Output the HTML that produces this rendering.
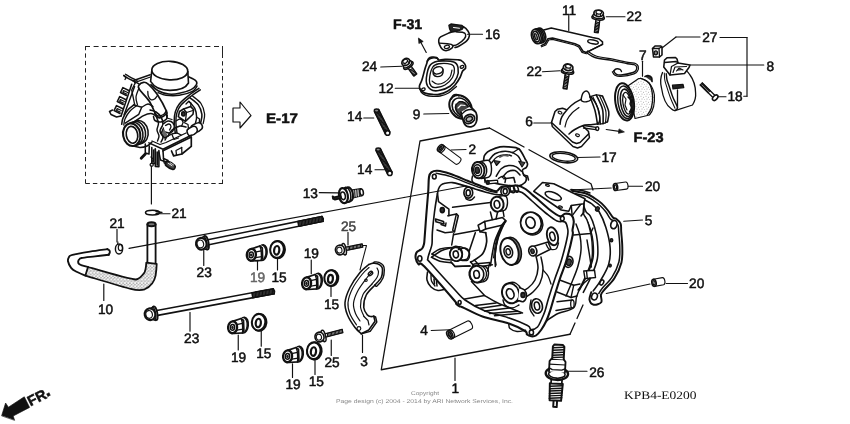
<!DOCTYPE html>
<html><head><meta charset="utf-8"><title>Cylinder head</title>
<style>
html,body{margin:0;padding:0;background:#fff;}
svg{display:block;filter:grayscale(1);}
text{text-rendering:geometricPrecision;}
</style></head><body>
<svg width="850" height="424" viewBox="0 0 850 424" stroke-linecap="round" stroke-linejoin="round">
<rect x="0" y="0" width="850" height="424" fill="#fff"/>
<g id="labels" opacity="0.999">
<text x="393" y="29" font-family='"Liberation Sans", sans-serif' font-size="14" font-weight="bold" fill="#111" textLength="29.2" lengthAdjust="spacingAndGlyphs" stroke="#111" stroke-width="0.5">F-31</text>
<text x="633.5" y="142" font-family='"Liberation Sans", sans-serif' font-size="14" font-weight="bold" fill="#111" textLength="30" lengthAdjust="spacingAndGlyphs" stroke="#111" stroke-width="0.5">F-23</text>
<text x="266" y="123.2" font-family='"Liberation Sans", sans-serif' font-size="14" font-weight="bold" fill="#111" textLength="32" lengthAdjust="spacingAndGlyphs" stroke="#111" stroke-width="0.5">E-17</text>
<text x="485" y="38.75" font-family='"Liberation Sans", sans-serif' font-size="13.7" fill="#111" stroke="#111" stroke-width="0.5">16</text>
<text x="562" y="14.5" font-family='"Liberation Sans", sans-serif' font-size="13.7" fill="#111" stroke="#111" stroke-width="0.5">11</text>
<text x="626.62" y="20.5" font-family='"Liberation Sans", sans-serif' font-size="13.7" fill="#111" stroke="#111" stroke-width="0.5">22</text>
<text x="702.25" y="42" font-family='"Liberation Sans", sans-serif' font-size="13.7" fill="#111" stroke="#111" stroke-width="0.5">27</text>
<text x="639" y="60" font-family='"Liberation Sans", sans-serif' font-size="13.7" fill="#111" stroke="#111" stroke-width="0.5">7</text>
<text x="766.5" y="71" font-family='"Liberation Sans", sans-serif' font-size="13.7" fill="#111" stroke="#111" stroke-width="0.5">8</text>
<text x="362" y="71.25" font-family='"Liberation Sans", sans-serif' font-size="13.7" fill="#111" stroke="#111" stroke-width="0.5">24</text>
<text x="378.5" y="93.25" font-family='"Liberation Sans", sans-serif' font-size="13.7" fill="#111" stroke="#111" stroke-width="0.5">12</text>
<text x="526.62" y="76.25" font-family='"Liberation Sans", sans-serif' font-size="13.7" fill="#111" stroke="#111" stroke-width="0.5">22</text>
<text x="727.5" y="100.5" font-family='"Liberation Sans", sans-serif' font-size="13.7" fill="#111" stroke="#111" stroke-width="0.5">18</text>
<text x="347.12" y="120.5" font-family='"Liberation Sans", sans-serif' font-size="13.7" fill="#111" stroke="#111" stroke-width="0.5">14</text>
<text x="412.75" y="119" font-family='"Liberation Sans", sans-serif' font-size="13.7" fill="#111" stroke="#111" stroke-width="0.5">9</text>
<text x="525.25" y="126" font-family='"Liberation Sans", sans-serif' font-size="13.7" fill="#111" stroke="#111" stroke-width="0.5">6</text>
<text x="357.12" y="174" font-family='"Liberation Sans", sans-serif' font-size="13.7" fill="#111" stroke="#111" stroke-width="0.5">14</text>
<text x="468.5" y="154" font-family='"Liberation Sans", sans-serif' font-size="13.7" fill="#111" stroke="#111" stroke-width="0.5">2</text>
<text x="601.5" y="161.5" font-family='"Liberation Sans", sans-serif' font-size="13.7" fill="#111" stroke="#111" stroke-width="0.5">17</text>
<text x="302.65" y="198.1" font-family='"Liberation Sans", sans-serif' font-size="13.7" fill="#111" stroke="#111" stroke-width="0.5">13</text>
<text x="645" y="191.25" font-family='"Liberation Sans", sans-serif' font-size="13.7" fill="#111" stroke="#111" stroke-width="0.5">20</text>
<text x="644.75" y="224.5" font-family='"Liberation Sans", sans-serif' font-size="13.7" fill="#111" stroke="#111" stroke-width="0.5">5</text>
<text x="171.5" y="218" font-family='"Liberation Sans", sans-serif' font-size="13.7" fill="#111" stroke="#111" stroke-width="0.5">21</text>
<text x="109.5" y="228.4" font-family='"Liberation Sans", sans-serif' font-size="13.7" fill="#111" stroke="#111" stroke-width="0.5">21</text>
<text x="340.88" y="231.25" font-family='"Liberation Sans", sans-serif' font-size="13.7" fill="#444" stroke="#444" stroke-width="0.5">25</text>
<text x="196.62" y="277" font-family='"Liberation Sans", sans-serif' font-size="13.7" fill="#111" stroke="#111" stroke-width="0.5">23</text>
<text x="250" y="282" font-family='"Liberation Sans", sans-serif' font-size="13.7" fill="#666" stroke="#666" stroke-width="0.5">19</text>
<text x="271.5" y="281.6" font-family='"Liberation Sans", sans-serif' font-size="13.7" fill="#111" stroke="#111" stroke-width="0.5">15</text>
<text x="303.75" y="258" font-family='"Liberation Sans", sans-serif' font-size="13.7" fill="#111" stroke="#111" stroke-width="0.5">19</text>
<text x="324" y="308.75" font-family='"Liberation Sans", sans-serif' font-size="13.7" fill="#111" stroke="#111" stroke-width="0.5">15</text>
<text x="689.12" y="288" font-family='"Liberation Sans", sans-serif' font-size="13.7" fill="#111" stroke="#111" stroke-width="0.5">20</text>
<text x="98" y="314" font-family='"Liberation Sans", sans-serif' font-size="13.7" fill="#111" stroke="#111" stroke-width="0.5">10</text>
<text x="184.12" y="343" font-family='"Liberation Sans", sans-serif' font-size="13.7" fill="#111" stroke="#111" stroke-width="0.5">23</text>
<text x="420.25" y="334.75" font-family='"Liberation Sans", sans-serif' font-size="13.7" fill="#111" stroke="#111" stroke-width="0.5">4</text>
<text x="231" y="362" font-family='"Liberation Sans", sans-serif' font-size="13.7" fill="#111" stroke="#111" stroke-width="0.5">19</text>
<text x="256.25" y="358" font-family='"Liberation Sans", sans-serif' font-size="13.7" fill="#111" stroke="#111" stroke-width="0.5">15</text>
<text x="324.38" y="367" font-family='"Liberation Sans", sans-serif' font-size="13.7" fill="#111" stroke="#111" stroke-width="0.5">25</text>
<text x="360.25" y="366" font-family='"Liberation Sans", sans-serif' font-size="13.7" fill="#111" stroke="#111" stroke-width="0.5">3</text>
<text x="285.38" y="389.25" font-family='"Liberation Sans", sans-serif' font-size="13.7" fill="#111" stroke="#111" stroke-width="0.5">19</text>
<text x="308.75" y="386.25" font-family='"Liberation Sans", sans-serif' font-size="13.7" fill="#111" stroke="#111" stroke-width="0.5">15</text>
<text x="451.5" y="393" font-family='"Liberation Sans", sans-serif' font-size="13.7" fill="#111" stroke="#111" stroke-width="0.5">1</text>
<text x="589.15" y="377" font-family='"Liberation Sans", sans-serif' font-size="13.7" fill="#111" stroke="#111" stroke-width="0.5">26</text>
<text x="624" y="398.7" font-family='"Liberation Serif", serif' font-size="11.5" fill="#111" textLength="72.5" lengthAdjust="spacingAndGlyphs" >KPB4-E0200</text>
<text x="411" y="394.7" font-family='"Liberation Sans", sans-serif' font-size="5.5" fill="#888" textLength="28" lengthAdjust="spacingAndGlyphs" >Copyright</text>
<text x="336" y="402.8" font-family='"Liberation Sans", sans-serif' font-size="5.5" fill="#888" textLength="177" lengthAdjust="spacingAndGlyphs" >Page design (c) 2004 - 2014 by ARI Network Services, Inc.</text>
</g>
<g id="leaders">
<line x1="467.5" y1="34.25" x2="482.5" y2="34.25" stroke="#111" stroke-width="1.17" />
<line x1="568.75" y1="15.5" x2="568.75" y2="30.5" stroke="#111" stroke-width="1.17" />
<line x1="606.25" y1="16.75" x2="625" y2="16.75" stroke="#111" stroke-width="1.17" />
<line x1="700" y1="37" x2="676" y2="37" stroke="#111" stroke-width="1.17" />
<line x1="676" y1="37" x2="661" y2="48.75" stroke="#111" stroke-width="1.17" />
<line x1="720" y1="37.5" x2="747" y2="37.5" stroke="#111" stroke-width="1.17" />
<line x1="747" y1="37.5" x2="747" y2="96.25" stroke="#111" stroke-width="1.17" />
<line x1="747" y1="96.25" x2="743.75" y2="96.25" stroke="#111" stroke-width="1.17" />
<line x1="690.5" y1="65" x2="763.75" y2="65" stroke="#111" stroke-width="1.17" />
<line x1="717.5" y1="96.75" x2="726" y2="96.75" stroke="#111" stroke-width="1.17" />
<line x1="642.5" y1="61.25" x2="642.5" y2="76.25" stroke="#111" stroke-width="1.17" />
<line x1="380.75" y1="67" x2="402" y2="66.25" stroke="#111" stroke-width="1.17" />
<line x1="395.25" y1="88.25" x2="420.75" y2="88.25" stroke="#111" stroke-width="1.17" />
<line x1="542.5" y1="71.75" x2="560" y2="70.75" stroke="#111" stroke-width="1.17" />
<line x1="363.75" y1="118" x2="373.75" y2="118" stroke="#111" stroke-width="1.17" />
<line x1="423.75" y1="114" x2="448.75" y2="113.5" stroke="#111" stroke-width="1.17" />
<line x1="533.75" y1="123" x2="551.25" y2="123" stroke="#111" stroke-width="1.17" />
<line x1="375" y1="169.75" x2="385" y2="169.75" stroke="#111" stroke-width="1.17" />
<line x1="451" y1="150" x2="466" y2="149.5" stroke="#111" stroke-width="1.17" />
<line x1="577.5" y1="157.5" x2="600" y2="157" stroke="#111" stroke-width="1.17" />
<line x1="319.3" y1="192.7" x2="337.7" y2="192.9" stroke="#111" stroke-width="1.17" />
<line x1="627.5" y1="186.25" x2="642.5" y2="186.25" stroke="#111" stroke-width="1.17" />
<line x1="570" y1="190" x2="611.25" y2="188" stroke="#111" stroke-width="1.17" />
<line x1="623.75" y1="221.25" x2="642.5" y2="220" stroke="#111" stroke-width="1.17" />
<line x1="160" y1="213.75" x2="170" y2="213.75" stroke="#111" stroke-width="1.17" />
<line x1="117" y1="229.4" x2="117" y2="241.9" stroke="#111" stroke-width="1.17" />
<line x1="348" y1="232.5" x2="348" y2="245" stroke="#111" stroke-width="1.17" />
<line x1="203.75" y1="250" x2="203.75" y2="265.5" stroke="#111" stroke-width="1.17" />
<line x1="257.5" y1="261.25" x2="257.5" y2="270" stroke="#111" stroke-width="1.17" />
<line x1="277.5" y1="258.75" x2="277.5" y2="270" stroke="#111" stroke-width="1.17" />
<line x1="311.25" y1="260" x2="311.25" y2="273.75" stroke="#111" stroke-width="1.17" />
<line x1="331" y1="286" x2="331" y2="296.5" stroke="#111" stroke-width="1.17" />
<line x1="666.25" y1="283.5" x2="687.5" y2="283.5" stroke="#111" stroke-width="1.17" />
<line x1="606.25" y1="293.5" x2="650" y2="284" stroke="#111" stroke-width="1.17" />
<line x1="103.8" y1="284" x2="103.8" y2="300.5" stroke="#111" stroke-width="1.17" />
<line x1="190" y1="312.5" x2="190" y2="331.25" stroke="#111" stroke-width="1.17" />
<line x1="431.25" y1="330.5" x2="450" y2="329.75" stroke="#111" stroke-width="1.17" />
<line x1="238.25" y1="335" x2="238.25" y2="350" stroke="#111" stroke-width="1.17" />
<line x1="261.25" y1="331.25" x2="261.25" y2="346.25" stroke="#111" stroke-width="1.17" />
<line x1="331.25" y1="340" x2="331.25" y2="355.5" stroke="#111" stroke-width="1.17" />
<line x1="362.5" y1="335" x2="362.5" y2="352.5" stroke="#111" stroke-width="1.17" />
<line x1="292.5" y1="363.75" x2="292.5" y2="377.5" stroke="#111" stroke-width="1.17" />
<line x1="315" y1="360" x2="315" y2="374.5" stroke="#111" stroke-width="1.17" />
<line x1="455" y1="358" x2="455" y2="380.5" stroke="#111" stroke-width="1.17" />
<line x1="567.5" y1="371.25" x2="587" y2="371.25" stroke="#111" stroke-width="1.17" />
<line x1="151.4" y1="166" x2="151.4" y2="204" stroke="#111" stroke-width="1.17" />
<path d="M362.5 245.5 L366.5 245.5 L360 270" fill="none" stroke="#111" stroke-width="1.04" />
<path d="M489.5 128 L420 141 L381.25 369.75 L570 334.25" fill="none" stroke="#111" stroke-width="1.3" />
<path d="M489.5 128 L524 147" fill="none" stroke="#111" stroke-width="1.3" />
<path d="M529 149.7 L591 183.75 L593 190" fill="none" stroke="#111" stroke-width="1.3" />
<path d="M570 334.25 L575 323" fill="none" stroke="#111" stroke-width="1.3" />
<path d="M577 318.5 L583 305" fill="none" stroke="#111" stroke-width="1.3" />
</g>
<g stroke="#222" stroke-width="1" stroke-linecap="butt" fill="none"><path d="M85 46.5 H223" stroke-dasharray="5 3.6"/><path d="M85.5 183.5 H223" stroke-dasharray="4.4 3"/><path d="M85.5 46 V184" stroke-dasharray="4.3 3.1"/><path d="M222.5 46 V58"/><path d="M222.5 61.2 V184" stroke-dasharray="4.3 3.1"/></g>
<path d="M233 108 L240 108 L240 102 L251 115.5 L240 128 L240 122 L233 122Z" fill="none" stroke="#111" stroke-width="1.17" />
<line x1="426.25" y1="52.5" x2="419.3" y2="39.5" stroke="#111" stroke-width="1.17" />
<path d="M418.75 38.25 L423.2 41.5 L419.2 43.3Z" fill="#111" stroke="#111" stroke-width="0.78" />
<line x1="606.25" y1="129.5" x2="621" y2="131.7" stroke="#111" stroke-width="1.17" />
<path d="M624 132 L618.5 133.3 L619 129.3Z" fill="#111" stroke="#111" stroke-width="0.78" />
<path d="M1.7 415.5 L5.6 403 L8.4 407.2 L24.3 396.8 L29.6 407.4 L13.2 416 L14.5 420Z" fill="#111" stroke="#111" stroke-width="0.65" />
<text transform="translate(30.5 406.5) rotate(-27)" font-family='"Liberation Sans", sans-serif' font-weight="bold" font-size="14.5" fill="#111" stroke="#111" stroke-width="0.5">FR<tspan dx="-0.5" dy="-1" font-size="19">.</tspan></text>
<line x1="129" y1="248.3" x2="404" y2="197.46" stroke="#111" stroke-width="1.17" />
<g id="hose">
<defs><pattern id="stip" width="3.4" height="3.4" patternUnits="userSpaceOnUse"><rect width="3.4" height="3.4" fill="#f4f4f4"/><circle cx="0.8" cy="0.9" r="0.5" fill="#222"/><circle cx="2.5" cy="2.4" r="0.5" fill="#222"/><circle cx="1" cy="2.9" r="0.35" fill="#444"/></pattern></defs>
<path d="M147.4 262.6 L147.4 224.5" fill="none" stroke="#111" stroke-width="1.82" />
<path d="M155.6 263.9 L155.6 224.5" fill="none" stroke="#111" stroke-width="1.82" />
<ellipse cx="151.5" cy="224.3" rx="4.1" ry="2" fill="#777" stroke="#111" stroke-width="1.95" />
<path d="M146.3 262.6 C146 268 145.5 272 143.7 273.5 C141.5 276.5 138.5 279 136 279.5 C131 279.8 100 270.5 88 267 L85.4 275.6 C100 280 124 287.5 130.8 288.8 C137 290.5 141 290.5 144.7 289.3 C151 286.5 154.5 281 155.6 275.6 C156.3 271 156.6 267 156.7 263.9 Z" fill="url(#stip)" stroke="#111" stroke-width="1.8"/>
<path d="M85.4 275.6 C83.83 274.92 78.38 272.8 76 271.5 C73.62 270.2 72.43 269.5 71.1 267.8 C69.77 266.1 68.35 263.1 68 261.3 C67.65 259.5 68.27 258.08 69 257 C69.73 255.92 68.9 255.7 72.4 254.8 C75.9 253.9 84.17 252.55 90 251.6 C95.83 250.65 104.5 249.52 107.4 249.1" fill="none" stroke="#111" stroke-width="1.89" />
<path d="M88 267 C87 266.73 83.52 265.92 82 265.4 C80.48 264.88 79.53 264.58 78.9 263.9 C78.27 263.22 78.1 262.08 78.2 261.3 C78.3 260.52 78.95 259.75 79.5 259.2 C80.05 258.65 78.92 258.47 81.5 258 C84.08 257.53 90.47 256.93 95 256.4 C99.53 255.87 106.42 255.07 108.7 254.8" fill="none" stroke="#111" stroke-width="1.89" />
<path d="M107.4 249.1 C107.72 249.3 108.9 249.77 109.3 250.3 C109.7 250.83 109.9 251.55 109.8 252.3 C109.7 253.05 108.88 254.38 108.7 254.8" fill="none" stroke="#111" stroke-width="1.89" />
</g>
<ellipse cx="152.5" cy="212.6" rx="7" ry="2.4" fill="none" stroke="#111" stroke-width="1.56" />
<path d="M156 211.5 L162 212.4 L156 213.6" fill="none" stroke="#111" stroke-width="1.3" />
<ellipse cx="119" cy="249" rx="3.6" ry="5" fill="none" stroke="#111" stroke-width="1.43" />
<ellipse cx="120.5" cy="247.5" rx="2.2" ry="3.2" fill="none" stroke="#111" stroke-width="1.17" />
<line x1="117.5" y1="244.5" x2="118" y2="241.9" stroke="#111" stroke-width="1.04" />
<path d="M207.63 244.99 L323 221.35" fill="none" stroke="#111" stroke-width="1.56" />
<path d="M206.63 240.1 L322 216.45" fill="none" stroke="#111" stroke-width="1.56" />
<path d="M323 221.35 L323.28 218.74 L322 216.45" fill="none" stroke="#111" stroke-width="1.56" />
<path d="M298.74 226.32 L323 221.35 L322 216.45 L297.73 221.42Z" fill="#555" stroke="#111" stroke-width="1.3" />
<line x1="298.74" y1="226.32" x2="298.32" y2="221.3" stroke="#111" stroke-width="1.04" />
<line x1="300.16" y1="226.03" x2="299.74" y2="221.01" stroke="#111" stroke-width="1.04" />
<line x1="301.58" y1="225.74" x2="301.16" y2="220.72" stroke="#111" stroke-width="1.04" />
<line x1="303" y1="225.45" x2="302.58" y2="220.43" stroke="#111" stroke-width="1.04" />
<line x1="304.42" y1="225.16" x2="304" y2="220.14" stroke="#111" stroke-width="1.04" />
<line x1="305.84" y1="224.87" x2="305.42" y2="219.85" stroke="#111" stroke-width="1.04" />
<line x1="307.26" y1="224.58" x2="306.84" y2="219.56" stroke="#111" stroke-width="1.04" />
<line x1="308.68" y1="224.28" x2="308.26" y2="219.27" stroke="#111" stroke-width="1.04" />
<line x1="310.1" y1="223.99" x2="309.68" y2="218.97" stroke="#111" stroke-width="1.04" />
<line x1="311.52" y1="223.7" x2="311.1" y2="218.68" stroke="#111" stroke-width="1.04" />
<line x1="312.94" y1="223.41" x2="312.52" y2="218.39" stroke="#111" stroke-width="1.04" />
<line x1="314.36" y1="223.12" x2="313.95" y2="218.1" stroke="#111" stroke-width="1.04" />
<line x1="315.78" y1="222.83" x2="315.37" y2="217.81" stroke="#111" stroke-width="1.04" />
<line x1="317.2" y1="222.54" x2="316.79" y2="217.52" stroke="#111" stroke-width="1.04" />
<line x1="318.62" y1="222.25" x2="318.21" y2="217.23" stroke="#111" stroke-width="1.04" />
<line x1="320.04" y1="221.96" x2="319.63" y2="216.94" stroke="#111" stroke-width="1.04" />
<line x1="321.46" y1="221.66" x2="321.05" y2="216.65" stroke="#111" stroke-width="1.04" />
<ellipse cx="206.15" cy="242.75" rx="2.4" ry="7" fill="#fff" stroke="#111" stroke-width="1.82" transform="rotate(-11.58 206.15 242.75)" />
<ellipse cx="204.58" cy="243.07" rx="2.2" ry="6.4" fill="#fff" stroke="#111" stroke-width="1.43" transform="rotate(-11.58 204.58 243.07)" />
<ellipse cx="201.25" cy="243.75" rx="5.3" ry="5.9" fill="#fff" stroke="#111" stroke-width="2.08" transform="rotate(-11.58 201.25 243.75)" />
<ellipse cx="200.37" cy="243.93" rx="3.3" ry="3.9" fill="none" stroke="#111" stroke-width="1.17" transform="rotate(-11.58 200.37 243.93)" />
<path d="M156.36 315.61 L274.21 293.76" fill="none" stroke="#111" stroke-width="1.56" />
<path d="M155.44 310.7 L273.29 288.84" fill="none" stroke="#111" stroke-width="1.56" />
<path d="M274.21 293.76 L274.54 291.15 L273.29 288.84" fill="none" stroke="#111" stroke-width="1.56" />
<path d="M252.71 297.74 L274.21 293.76 L273.29 288.84 L251.8 292.83Z" fill="#555" stroke="#111" stroke-width="1.3" />
<line x1="252.71" y1="297.74" x2="252.39" y2="292.72" stroke="#111" stroke-width="1.04" />
<line x1="254.14" y1="297.48" x2="253.82" y2="292.45" stroke="#111" stroke-width="1.04" />
<line x1="255.56" y1="297.22" x2="255.24" y2="292.19" stroke="#111" stroke-width="1.04" />
<line x1="256.99" y1="296.95" x2="256.67" y2="291.93" stroke="#111" stroke-width="1.04" />
<line x1="258.42" y1="296.69" x2="258.09" y2="291.66" stroke="#111" stroke-width="1.04" />
<line x1="259.84" y1="296.42" x2="259.52" y2="291.4" stroke="#111" stroke-width="1.04" />
<line x1="261.27" y1="296.16" x2="260.94" y2="291.13" stroke="#111" stroke-width="1.04" />
<line x1="262.69" y1="295.89" x2="262.37" y2="290.87" stroke="#111" stroke-width="1.04" />
<line x1="264.12" y1="295.63" x2="263.8" y2="290.6" stroke="#111" stroke-width="1.04" />
<line x1="265.54" y1="295.36" x2="265.22" y2="290.34" stroke="#111" stroke-width="1.04" />
<line x1="266.97" y1="295.1" x2="266.65" y2="290.07" stroke="#111" stroke-width="1.04" />
<line x1="268.39" y1="294.84" x2="268.07" y2="289.81" stroke="#111" stroke-width="1.04" />
<line x1="269.82" y1="294.57" x2="269.5" y2="289.55" stroke="#111" stroke-width="1.04" />
<line x1="271.25" y1="294.31" x2="270.92" y2="289.28" stroke="#111" stroke-width="1.04" />
<line x1="272.67" y1="294.04" x2="272.35" y2="289.02" stroke="#111" stroke-width="1.04" />
<ellipse cx="154.92" cy="313.34" rx="2.4" ry="7" fill="#fff" stroke="#111" stroke-width="1.82" transform="rotate(-10.51 154.92 313.34)" />
<ellipse cx="153.34" cy="313.63" rx="2.2" ry="6.4" fill="#fff" stroke="#111" stroke-width="1.43" transform="rotate(-10.51 153.34 313.63)" />
<ellipse cx="150" cy="314.25" rx="5.3" ry="5.9" fill="#fff" stroke="#111" stroke-width="2.08" transform="rotate(-10.51 150 314.25)" />
<ellipse cx="149.12" cy="314.41" rx="3.3" ry="3.9" fill="none" stroke="#111" stroke-width="1.17" transform="rotate(-10.51 149.12 314.41)" />
<g transform="translate(246.25 245)">
<ellipse cx="16.3" cy="7.6" rx="4.4" ry="7.9" fill="#222" stroke="#111" stroke-width="1.69" transform="rotate(6 16.3 7.6)" />
<ellipse cx="14.3" cy="7.9" rx="4.1" ry="7" fill="#fff" stroke="#fff" stroke-width="1.04" transform="rotate(6 14.3 7.9)" />
<path d="M5.1 3.9 L13.6 1 L16 3 L16.4 13 L15 15.3 L6.5 16Z" fill="#fff" stroke="#111" stroke-width="1.69" />
<line x1="9" y1="7.2" x2="15" y2="5.8" stroke="#111" stroke-width="1.3" />
<line x1="9.4" y1="12.6" x2="15.4" y2="11.6" stroke="#111" stroke-width="1.3" />
<path d="M13.6 1 C13.8 1.67 14.53 3.25 14.8 5 C15.07 6.75 15.17 9.78 15.2 11.5 C15.23 13.22 15.03 14.67 15 15.3" fill="none" stroke="#111" stroke-width="1.43" />
<ellipse cx="5.1" cy="9.8" rx="4.5" ry="6" fill="#fff" stroke="#111" stroke-width="2.34" transform="rotate(6 5.1 9.8)" />
<ellipse cx="5" cy="9.9" rx="2.1" ry="2.9" fill="#fff" stroke="#111" stroke-width="1.43" transform="rotate(6 5 9.9)" />
<ellipse cx="5" cy="9.9" rx="0.7" ry="1" fill="#333" stroke="#111" stroke-width="1.04" transform="rotate(6 5 9.9)" />
</g>
<ellipse cx="278" cy="249.7" rx="7" ry="8.6" fill="#222" stroke="#111" stroke-width="1.82" transform="rotate(6 278 249.7)" />
<ellipse cx="277" cy="249.5" rx="6.8" ry="8.4" fill="#fff" stroke="#111" stroke-width="2.08" transform="rotate(6 277 249.5)" />
<ellipse cx="276.7" cy="250.3" rx="2.59" ry="4.3" fill="#fff" stroke="#111" stroke-width="2.21" transform="rotate(6 276.7 250.3)" />
<g transform="translate(301.5 273.5)">
<ellipse cx="16.3" cy="7.6" rx="4.4" ry="7.9" fill="#222" stroke="#111" stroke-width="1.69" transform="rotate(6 16.3 7.6)" />
<ellipse cx="14.3" cy="7.9" rx="4.1" ry="7" fill="#fff" stroke="#fff" stroke-width="1.04" transform="rotate(6 14.3 7.9)" />
<path d="M5.1 3.9 L13.6 1 L16 3 L16.4 13 L15 15.3 L6.5 16Z" fill="#fff" stroke="#111" stroke-width="1.69" />
<line x1="9" y1="7.2" x2="15" y2="5.8" stroke="#111" stroke-width="1.3" />
<line x1="9.4" y1="12.6" x2="15.4" y2="11.6" stroke="#111" stroke-width="1.3" />
<path d="M13.6 1 C13.8 1.67 14.53 3.25 14.8 5 C15.07 6.75 15.17 9.78 15.2 11.5 C15.23 13.22 15.03 14.67 15 15.3" fill="none" stroke="#111" stroke-width="1.43" />
<ellipse cx="5.1" cy="9.8" rx="4.5" ry="6" fill="#fff" stroke="#111" stroke-width="2.34" transform="rotate(6 5.1 9.8)" />
<ellipse cx="5" cy="9.9" rx="2.1" ry="2.9" fill="#fff" stroke="#111" stroke-width="1.43" transform="rotate(6 5 9.9)" />
<ellipse cx="5" cy="9.9" rx="0.7" ry="1" fill="#333" stroke="#111" stroke-width="1.04" transform="rotate(6 5 9.9)" />
</g>
<ellipse cx="331.75" cy="278.2" rx="6.6" ry="8" fill="#222" stroke="#111" stroke-width="1.82" transform="rotate(6 331.75 278.2)" />
<ellipse cx="330.75" cy="278" rx="6.4" ry="7.8" fill="#fff" stroke="#111" stroke-width="2.08" transform="rotate(6 330.75 278)" />
<ellipse cx="330.45" cy="278.8" rx="2.44" ry="4" fill="#fff" stroke="#111" stroke-width="2.21" transform="rotate(6 330.45 278.8)" />
<g transform="translate(227.5 317.5)">
<ellipse cx="16.3" cy="7.6" rx="4.4" ry="7.9" fill="#222" stroke="#111" stroke-width="1.69" transform="rotate(6 16.3 7.6)" />
<ellipse cx="14.3" cy="7.9" rx="4.1" ry="7" fill="#fff" stroke="#fff" stroke-width="1.04" transform="rotate(6 14.3 7.9)" />
<path d="M5.1 3.9 L13.6 1 L16 3 L16.4 13 L15 15.3 L6.5 16Z" fill="#fff" stroke="#111" stroke-width="1.69" />
<line x1="9" y1="7.2" x2="15" y2="5.8" stroke="#111" stroke-width="1.3" />
<line x1="9.4" y1="12.6" x2="15.4" y2="11.6" stroke="#111" stroke-width="1.3" />
<path d="M13.6 1 C13.8 1.67 14.53 3.25 14.8 5 C15.07 6.75 15.17 9.78 15.2 11.5 C15.23 13.22 15.03 14.67 15 15.3" fill="none" stroke="#111" stroke-width="1.43" />
<ellipse cx="5.1" cy="9.8" rx="4.5" ry="6" fill="#fff" stroke="#111" stroke-width="2.34" transform="rotate(6 5.1 9.8)" />
<ellipse cx="5" cy="9.9" rx="2.1" ry="2.9" fill="#fff" stroke="#111" stroke-width="1.43" transform="rotate(6 5 9.9)" />
<ellipse cx="5" cy="9.9" rx="0.7" ry="1" fill="#333" stroke="#111" stroke-width="1.04" transform="rotate(6 5 9.9)" />
</g>
<ellipse cx="259.6" cy="322.4" rx="6.9" ry="8.5" fill="#222" stroke="#111" stroke-width="1.82" transform="rotate(6 259.6 322.4)" />
<ellipse cx="258.6" cy="322.2" rx="6.7" ry="8.3" fill="#fff" stroke="#111" stroke-width="2.08" transform="rotate(6 258.6 322.2)" />
<ellipse cx="258.3" cy="323" rx="2.55" ry="4.25" fill="#fff" stroke="#111" stroke-width="2.21" transform="rotate(6 258.3 323)" />
<g transform="translate(282.5 346.5)">
<ellipse cx="16.3" cy="7.6" rx="4.4" ry="7.9" fill="#222" stroke="#111" stroke-width="1.69" transform="rotate(6 16.3 7.6)" />
<ellipse cx="14.3" cy="7.9" rx="4.1" ry="7" fill="#fff" stroke="#fff" stroke-width="1.04" transform="rotate(6 14.3 7.9)" />
<path d="M5.1 3.9 L13.6 1 L16 3 L16.4 13 L15 15.3 L6.5 16Z" fill="#fff" stroke="#111" stroke-width="1.69" />
<line x1="9" y1="7.2" x2="15" y2="5.8" stroke="#111" stroke-width="1.3" />
<line x1="9.4" y1="12.6" x2="15.4" y2="11.6" stroke="#111" stroke-width="1.3" />
<path d="M13.6 1 C13.8 1.67 14.53 3.25 14.8 5 C15.07 6.75 15.17 9.78 15.2 11.5 C15.23 13.22 15.03 14.67 15 15.3" fill="none" stroke="#111" stroke-width="1.43" />
<ellipse cx="5.1" cy="9.8" rx="4.5" ry="6" fill="#fff" stroke="#111" stroke-width="2.34" transform="rotate(6 5.1 9.8)" />
<ellipse cx="5" cy="9.9" rx="2.1" ry="2.9" fill="#fff" stroke="#111" stroke-width="1.43" transform="rotate(6 5 9.9)" />
<ellipse cx="5" cy="9.9" rx="0.7" ry="1" fill="#333" stroke="#111" stroke-width="1.04" transform="rotate(6 5 9.9)" />
</g>
<ellipse cx="314.75" cy="350.95" rx="7" ry="8.6" fill="#222" stroke="#111" stroke-width="1.82" transform="rotate(6 314.75 350.95)" />
<ellipse cx="313.75" cy="350.75" rx="6.8" ry="8.4" fill="#fff" stroke="#111" stroke-width="2.08" transform="rotate(6 313.75 350.75)" />
<ellipse cx="313.45" cy="351.55" rx="2.59" ry="4.3" fill="#fff" stroke="#111" stroke-width="2.21" transform="rotate(6 313.45 351.55)" />
<path d="M345.22 250.59 L362.81 247.07 L362.19 243.93 L344.59 247.45" fill="none" stroke="#111" stroke-width="1.3" />
<line x1="348.16" y1="250" x2="348.12" y2="246.74" stroke="#111" stroke-width="1.04" />
<line x1="349.53" y1="249.73" x2="349.49" y2="246.47" stroke="#111" stroke-width="1.04" />
<line x1="350.9" y1="249.45" x2="350.86" y2="246.2" stroke="#111" stroke-width="1.04" />
<line x1="352.28" y1="249.18" x2="352.24" y2="245.92" stroke="#111" stroke-width="1.04" />
<line x1="353.65" y1="248.9" x2="353.61" y2="245.65" stroke="#111" stroke-width="1.04" />
<line x1="355.02" y1="248.63" x2="354.98" y2="245.37" stroke="#111" stroke-width="1.04" />
<line x1="356.4" y1="248.35" x2="356.36" y2="245.1" stroke="#111" stroke-width="1.04" />
<line x1="357.77" y1="248.08" x2="357.73" y2="244.82" stroke="#111" stroke-width="1.04" />
<line x1="359.14" y1="247.8" x2="359.1" y2="244.55" stroke="#111" stroke-width="1.04" />
<line x1="360.51" y1="247.53" x2="360.47" y2="244.27" stroke="#111" stroke-width="1.04" />
<line x1="361.89" y1="247.25" x2="361.85" y2="244" stroke="#111" stroke-width="1.04" />
<ellipse cx="344.12" cy="249.18" rx="2" ry="5.8" fill="#fff" stroke="#111" stroke-width="1.56" transform="rotate(-11.31 344.12 249.18)" />
<ellipse cx="340" cy="250" rx="4.5" ry="4.8" fill="#fff" stroke="#111" stroke-width="1.69" transform="rotate(-11.31 340 250)" />
<ellipse cx="339.41" cy="250.12" rx="2.6" ry="3" fill="none" stroke="#111" stroke-width="1.04" transform="rotate(-11.31 339.41 250.12)" />
<path d="M324.74 337.29 L342.9 332.55 L342.1 329.45 L323.93 334.19" fill="none" stroke="#111" stroke-width="1.3" />
<line x1="327.64" y1="336.53" x2="327.42" y2="333.28" stroke="#111" stroke-width="1.04" />
<line x1="329" y1="336.18" x2="328.77" y2="332.93" stroke="#111" stroke-width="1.04" />
<line x1="330.35" y1="335.82" x2="330.13" y2="332.57" stroke="#111" stroke-width="1.04" />
<line x1="331.71" y1="335.47" x2="331.48" y2="332.22" stroke="#111" stroke-width="1.04" />
<line x1="333.06" y1="335.12" x2="332.84" y2="331.87" stroke="#111" stroke-width="1.04" />
<line x1="334.42" y1="334.76" x2="334.19" y2="331.51" stroke="#111" stroke-width="1.04" />
<line x1="335.77" y1="334.41" x2="335.55" y2="331.16" stroke="#111" stroke-width="1.04" />
<line x1="337.13" y1="334.06" x2="336.9" y2="330.81" stroke="#111" stroke-width="1.04" />
<line x1="338.48" y1="333.7" x2="338.25" y2="330.45" stroke="#111" stroke-width="1.04" />
<line x1="339.84" y1="333.35" x2="339.61" y2="330.1" stroke="#111" stroke-width="1.04" />
<line x1="341.19" y1="332.99" x2="340.96" y2="329.75" stroke="#111" stroke-width="1.04" />
<line x1="342.55" y1="332.64" x2="342.32" y2="329.39" stroke="#111" stroke-width="1.04" />
<ellipse cx="323.56" cy="335.94" rx="2" ry="5.8" fill="#fff" stroke="#111" stroke-width="1.56" transform="rotate(-14.62 323.56 335.94)" />
<ellipse cx="319.5" cy="337" rx="4.5" ry="4.8" fill="#fff" stroke="#111" stroke-width="1.69" transform="rotate(-14.62 319.5 337)" />
<ellipse cx="318.92" cy="337.15" rx="2.6" ry="3" fill="none" stroke="#111" stroke-width="1.04" transform="rotate(-14.62 318.92 337.15)" />
<g id="plate3">
<path d="M368.75 264.5 C367.29 265.83 363.12 268.67 360 272.5 C356.88 276.33 352.5 282.5 350 287.5 C347.5 292.5 345.42 297.92 345 302.5 C344.58 307.08 345.83 310.83 347.5 315 C349.17 319.17 352.71 324.38 355 327.5 C357.29 330.62 360.21 332.71 361.25 333.75" fill="none" stroke="#111" stroke-width="1.56" />
<path d="M368.75 264.5 C369.46 264.3 371.54 263.43 373 263.3 C374.46 263.18 376.08 263.22 377.5 263.75 C378.92 264.28 380.67 265.46 381.5 266.5 C382.33 267.54 382.54 268.17 382.5 270 C382.46 271.83 382.5 275 381.25 277.5 C380 280 376.04 283.75 375 285" fill="none" stroke="#111" stroke-width="1.56" />
<path d="M375 285 C373.54 286.67 368.12 291.25 366.25 295 C364.38 298.75 363.54 304.17 363.75 307.5 C363.96 310.83 366.29 313.48 367.5 315 C368.71 316.52 369.96 316.39 371 316.6 C372.04 316.81 373.29 316.31 373.75 316.25" fill="none" stroke="#111" stroke-width="1.56" />
<path d="M373.75 316.25 L375 321.25 L368.75 330 L361.25 333.75" fill="none" stroke="#111" stroke-width="1.56" />
<path d="M369 267.5 C367.83 268.67 364.75 271 362 274.5 C359.25 278 354.83 283.83 352.5 288.5 C350.17 293.17 348.42 298.25 348 302.5 C347.58 306.75 348.58 310.25 350 314 C351.42 317.75 355.42 323.17 356.5 325" fill="none" stroke="#111" stroke-width="1.17" />
<path d="M372 272 C371 273.17 368.42 275.75 366 279 C363.58 282.25 359.58 287.42 357.5 291.5 C355.42 295.58 353.83 299.83 353.5 303.5 C353.17 307.17 354.42 310.58 355.5 313.5 C356.58 316.42 359.25 319.75 360 321" fill="none" stroke="#111" stroke-width="1.17" />
<path d="M377 268 C377.25 268.67 378.5 270.42 378.5 272 C378.5 273.58 378.08 275.5 377 277.5 C375.92 279.5 372.83 282.92 372 284" fill="none" stroke="#111" stroke-width="1.17" />
<path d="M372 284 C370.5 285.75 364.92 290.75 363 294.5 C361.08 298.25 360.33 302.83 360.5 306.5 C360.67 310.17 363.42 314.83 364 316.5" fill="none" stroke="#111" stroke-width="1.17" />
<path d="M364 316.5 L368 320.5 L369 325" fill="none" stroke="#111" stroke-width="1.17" />
<path d="M373 263.3 C373.25 263.08 373.5 262.15 374.5 262 C375.5 261.85 377.55 261.83 379 262.4 C380.45 262.97 382.32 264.13 383.2 265.4 C384.08 266.67 384.33 267.9 384.3 270 C384.27 272.1 384.22 275.33 383 278 C381.78 280.67 378.33 284.83 377 286 C375.67 287.17 375.33 285.17 375 285" fill="none" stroke="#111" stroke-width="1.43" />
<path d="M373.75 316.25 L375.6 317 L376.8 322 L370.2 331.4 L361.25 333.75" fill="none" stroke="#111" stroke-width="1.43" />
<ellipse cx="370.5" cy="273.5" rx="2.4" ry="1.7" fill="none" stroke="#111" stroke-width="1.43" transform="rotate(-40 370.5 273.5)" />
<ellipse cx="366" cy="280.3" rx="1.2" ry="1.2" fill="none" stroke="#111" stroke-width="1.17" />
<ellipse cx="358.9" cy="328.6" rx="1.9" ry="1.9" fill="none" stroke="#111" stroke-width="1.17" />
</g>
<path d="M374.54 111.61 L385.54 134.01 L389.66 131.99 L378.66 109.59Z" fill="#aaa" stroke="#111" stroke-width="1.69" />
<line x1="374.67" y1="111.88" x2="379.19" y2="110.66" stroke="#111" stroke-width="1.23" />
<line x1="375.22" y1="113.01" x2="379.74" y2="111.79" stroke="#111" stroke-width="1.23" />
<line x1="375.77" y1="114.13" x2="380.3" y2="112.91" stroke="#111" stroke-width="1.23" />
<line x1="376.32" y1="115.25" x2="380.85" y2="114.03" stroke="#111" stroke-width="1.23" />
<line x1="376.87" y1="116.37" x2="381.4" y2="115.15" stroke="#111" stroke-width="1.23" />
<line x1="377.42" y1="117.49" x2="381.95" y2="116.27" stroke="#111" stroke-width="1.23" />
<line x1="377.97" y1="118.62" x2="382.5" y2="117.4" stroke="#111" stroke-width="1.23" />
<line x1="378.52" y1="119.74" x2="383.05" y2="118.52" stroke="#111" stroke-width="1.23" />
<line x1="379.08" y1="120.86" x2="383.6" y2="119.64" stroke="#111" stroke-width="1.23" />
<line x1="379.63" y1="121.98" x2="384.15" y2="120.76" stroke="#111" stroke-width="1.23" />
<line x1="380.18" y1="123.1" x2="384.7" y2="121.88" stroke="#111" stroke-width="1.23" />
<line x1="380.73" y1="124.23" x2="385.25" y2="123.01" stroke="#111" stroke-width="1.23" />
<line x1="381.28" y1="125.35" x2="385.81" y2="124.13" stroke="#111" stroke-width="1.23" />
<line x1="381.83" y1="126.47" x2="386.36" y2="125.25" stroke="#111" stroke-width="1.23" />
<line x1="382.38" y1="127.59" x2="386.91" y2="126.37" stroke="#111" stroke-width="1.23" />
<line x1="382.93" y1="128.71" x2="387.46" y2="127.49" stroke="#111" stroke-width="1.23" />
<line x1="383.48" y1="129.84" x2="388.01" y2="128.62" stroke="#111" stroke-width="1.23" />
<line x1="384.03" y1="130.96" x2="388.56" y2="129.74" stroke="#111" stroke-width="1.23" />
<line x1="384.59" y1="132.08" x2="389.11" y2="130.86" stroke="#111" stroke-width="1.23" />
<line x1="385.14" y1="133.2" x2="389.66" y2="131.98" stroke="#111" stroke-width="1.23" />
<ellipse cx="387.6" cy="133" rx="2.3" ry="2.3" fill="#fff" stroke="#111" stroke-width="1.56" />
<ellipse cx="376.6" cy="110.6" rx="2.3" ry="1.61" fill="#888" stroke="#111" stroke-width="1.43" />
<path d="M376.14 150.61 L387.74 174.21 L391.86 172.19 L380.26 148.59Z" fill="#aaa" stroke="#111" stroke-width="1.69" />
<line x1="376.27" y1="150.88" x2="380.79" y2="149.66" stroke="#111" stroke-width="1.23" />
<line x1="376.82" y1="152.01" x2="381.34" y2="150.78" stroke="#111" stroke-width="1.23" />
<line x1="377.37" y1="153.13" x2="381.9" y2="151.91" stroke="#111" stroke-width="1.23" />
<line x1="377.92" y1="154.25" x2="382.45" y2="153.03" stroke="#111" stroke-width="1.23" />
<line x1="378.47" y1="155.37" x2="383" y2="154.15" stroke="#111" stroke-width="1.23" />
<line x1="379.03" y1="156.49" x2="383.55" y2="155.27" stroke="#111" stroke-width="1.23" />
<line x1="379.58" y1="157.61" x2="384.1" y2="156.39" stroke="#111" stroke-width="1.23" />
<line x1="380.13" y1="158.74" x2="384.65" y2="157.52" stroke="#111" stroke-width="1.23" />
<line x1="380.68" y1="159.86" x2="385.2" y2="158.64" stroke="#111" stroke-width="1.23" />
<line x1="381.23" y1="160.98" x2="385.76" y2="159.76" stroke="#111" stroke-width="1.23" />
<line x1="381.78" y1="162.1" x2="386.31" y2="160.88" stroke="#111" stroke-width="1.23" />
<line x1="382.33" y1="163.22" x2="386.86" y2="162" stroke="#111" stroke-width="1.23" />
<line x1="382.88" y1="164.35" x2="387.41" y2="163.12" stroke="#111" stroke-width="1.23" />
<line x1="383.44" y1="165.47" x2="387.96" y2="164.25" stroke="#111" stroke-width="1.23" />
<line x1="383.99" y1="166.59" x2="388.51" y2="165.37" stroke="#111" stroke-width="1.23" />
<line x1="384.54" y1="167.71" x2="389.06" y2="166.49" stroke="#111" stroke-width="1.23" />
<line x1="385.09" y1="168.83" x2="389.62" y2="167.61" stroke="#111" stroke-width="1.23" />
<line x1="385.64" y1="169.95" x2="390.17" y2="168.73" stroke="#111" stroke-width="1.23" />
<line x1="386.19" y1="171.08" x2="390.72" y2="169.85" stroke="#111" stroke-width="1.23" />
<line x1="386.74" y1="172.2" x2="391.27" y2="170.98" stroke="#111" stroke-width="1.23" />
<line x1="387.3" y1="173.32" x2="391.82" y2="172.1" stroke="#111" stroke-width="1.23" />
<ellipse cx="389.8" cy="173.2" rx="2.3" ry="2.3" fill="#fff" stroke="#111" stroke-width="1.56" />
<ellipse cx="378.2" cy="149.6" rx="2.3" ry="1.61" fill="#888" stroke="#111" stroke-width="1.43" />
<g id="p13">
<path d="M351 190.3 L361 188.6 L362 195.6 L352 198Z" fill="#444" stroke="#111" stroke-width="1.43" />
<line x1="353.3" y1="190.6" x2="353.9" y2="197" stroke="#ddd" stroke-width="0.91" />
<line x1="355.6" y1="190.2" x2="356.2" y2="196.55" stroke="#ddd" stroke-width="0.91" />
<line x1="357.9" y1="189.8" x2="358.5" y2="196.1" stroke="#ddd" stroke-width="0.91" />
<line x1="360.2" y1="189.4" x2="360.8" y2="195.65" stroke="#ddd" stroke-width="0.91" />
<ellipse cx="361.6" cy="192.2" rx="1.7" ry="3.3" fill="#fff" stroke="#111" stroke-width="1.56" transform="rotate(-10 361.6 192.2)" />
<ellipse cx="349" cy="194.3" rx="3.9" ry="7.2" fill="#fff" stroke="#111" stroke-width="1.95" transform="rotate(-10 349 194.3)" />
<ellipse cx="346.8" cy="194.8" rx="3.9" ry="7.6" fill="#fff" stroke="#111" stroke-width="1.56" transform="rotate(-10 346.8 194.8)" />
<ellipse cx="343.4" cy="195.6" rx="4.4" ry="7.6" fill="#fff" stroke="#111" stroke-width="2.21" transform="rotate(-10 343.4 195.6)" />
<ellipse cx="343" cy="195.8" rx="2.3" ry="3.9" fill="#fff" stroke="#111" stroke-width="1.56" transform="rotate(-10 343 195.8)" />
<line x1="344.5" y1="189" x2="349.5" y2="187.6" stroke="#111" stroke-width="1.56" />
<line x1="345.5" y1="203" x2="350.5" y2="201.2" stroke="#111" stroke-width="1.56" />
<path d="M340.5 195.8 L334 197.3 L332.6 196.3 L333 198.8 L335 199.6 L341 198.2Z" fill="#222" stroke="#111" stroke-width="1.69" />
</g>
<path d="M438.17 151.13 L455.67 164.13 A2.15 3.9 36.61 0 0 460.33 157.87 L442.83 144.87" fill="#fff" stroke="#111" stroke-width="1.1"/>
<ellipse cx="440.5" cy="148" rx="2.34" ry="3.9" fill="#fff" stroke="#111" stroke-width="1.56" transform="rotate(36.61 440.5 148)" />
<ellipse cx="440.5" cy="148" rx="1.17" ry="2.15" fill="#666" stroke="#111" stroke-width="1.3" transform="rotate(36.61 440.5 148)" />
<ellipse cx="441.94" cy="149.07" rx="2.34" ry="3.9" fill="none" stroke="#111" stroke-width="1.17" transform="rotate(36.61 441.94 149.07)" />
<path d="M451.76 338.74 L471.46 328.94 A2.42 4.4 -26.45 0 0 467.54 321.06 L447.84 330.86" fill="#fff" stroke="#111" stroke-width="1.1"/>
<ellipse cx="449.8" cy="334.8" rx="2.64" ry="4.4" fill="#fff" stroke="#111" stroke-width="1.56" transform="rotate(-26.45 449.8 334.8)" />
<ellipse cx="449.8" cy="334.8" rx="1.32" ry="2.42" fill="#666" stroke="#111" stroke-width="1.3" transform="rotate(-26.45 449.8 334.8)" />
<ellipse cx="451.41" cy="334" rx="2.64" ry="4.4" fill="none" stroke="#111" stroke-width="1.17" transform="rotate(-26.45 451.41 334)" />
<path d="M615.98 190.57 L626.48 189.17 A1.98 3.6 -7.59 0 0 625.52 182.03 L615.02 183.43" fill="#fff" stroke="#111" stroke-width="1.1"/>
<ellipse cx="615.5" cy="187" rx="2.16" ry="3.6" fill="#fff" stroke="#111" stroke-width="1.56" transform="rotate(-7.59 615.5 187)" />
<ellipse cx="615.5" cy="187" rx="1.08" ry="2.23" fill="none" stroke="#111" stroke-width="1.3" transform="rotate(-7.59 615.5 187)" />
<path d="M654.63 286.34 L663.63 284.74 A1.98 3.6 -10.08 0 0 662.37 277.66 L653.37 279.26" fill="#fff" stroke="#111" stroke-width="1.1"/>
<ellipse cx="654" cy="282.8" rx="2.16" ry="3.6" fill="#fff" stroke="#111" stroke-width="1.56" transform="rotate(-10.08 654 282.8)" />
<ellipse cx="654" cy="282.8" rx="1.08" ry="2.23" fill="none" stroke="#111" stroke-width="1.3" transform="rotate(-10.08 654 282.8)" />
<ellipse cx="563.75" cy="157.3" rx="14" ry="5.3" fill="none" stroke="#111" stroke-width="1.56" transform="rotate(7 563.75 157.3)" />
<ellipse cx="563.75" cy="157.3" rx="11.6" ry="3.7" fill="none" stroke="#111" stroke-width="1.3" transform="rotate(7 563.75 157.3)" />
<g id="plug" transform="translate(-1 0) rotate(3.2 557 375)">
<path d="M556 400.5 L556 407 L559.5 407 L559.5 400.5" fill="none" stroke="#111" stroke-width="1.95" />
<path d="M551.3 383.5 L564.3 383.5 L563.5 400.5 L552 400.5Z" fill="#fff" stroke="#111" stroke-width="1.95" />
<line x1="551.5" y1="386.6" x2="564" y2="385.4" stroke="#111" stroke-width="1.43" />
<line x1="551.5" y1="389" x2="564" y2="387.8" stroke="#111" stroke-width="1.43" />
<line x1="551.5" y1="391.4" x2="564" y2="390.2" stroke="#111" stroke-width="1.43" />
<line x1="551.5" y1="393.8" x2="564" y2="392.6" stroke="#111" stroke-width="1.43" />
<line x1="551.5" y1="396.2" x2="564" y2="395" stroke="#111" stroke-width="1.43" />
<line x1="551.5" y1="398.6" x2="564" y2="397.4" stroke="#111" stroke-width="1.43" />
<path d="M552.5 378 L552.5 383.5 L563.3 383.5 L563.3 378" fill="#fff" stroke="#111" stroke-width="1.69" />
<ellipse cx="557.8" cy="373.6" rx="11.2" ry="6.3" fill="#fff" stroke="#111" stroke-width="2.34" />
<ellipse cx="557.8" cy="374.2" rx="8.3" ry="3.9" fill="none" stroke="#111" stroke-width="1.56" />
<path d="M549.8 372 L549.8 361.5 L551.5 359 L564 359 L565.8 361.5 L565.8 372" fill="#fff" stroke="#111" stroke-width="1.82" />
<path d="M549.8 368.3 L553 369.8 L562.5 369.8 L565.8 368.3" fill="none" stroke="#111" stroke-width="1.3" />
<line x1="549.8" y1="364.5" x2="565.8" y2="364.5" stroke="#111" stroke-width="1.17" />
<path d="M552.3 359 L552.3 346.5 L553.8 344.6 L562.3 344.6 L563.8 346.5 L563.8 359" fill="#fff" stroke="#111" stroke-width="1.95" />
<line x1="552.5" y1="348" x2="563.6" y2="346.9" stroke="#111" stroke-width="1.43" />
<line x1="552.5" y1="350.5" x2="563.6" y2="349.4" stroke="#111" stroke-width="1.43" />
<line x1="552.5" y1="353" x2="563.6" y2="351.9" stroke="#111" stroke-width="1.43" />
<line x1="552.5" y1="355.5" x2="563.6" y2="354.4" stroke="#111" stroke-width="1.43" />
<line x1="552.5" y1="357.8" x2="563.6" y2="356.7" stroke="#111" stroke-width="1.43" />
</g>
<path d="M596.13 18.24 L594.41 32.27 L598.19 32.73 L599.9 18.7" fill="#fff" stroke="#111" stroke-width="1.43" />
<line x1="595.7" y1="21.71" x2="599.39" y2="22.87" stroke="#111" stroke-width="1.17" />
<line x1="595.52" y1="23.2" x2="599.21" y2="24.36" stroke="#111" stroke-width="1.17" />
<line x1="595.34" y1="24.69" x2="599.03" y2="25.85" stroke="#111" stroke-width="1.17" />
<line x1="595.16" y1="26.18" x2="598.85" y2="27.34" stroke="#111" stroke-width="1.17" />
<line x1="594.98" y1="27.67" x2="598.66" y2="28.83" stroke="#111" stroke-width="1.17" />
<line x1="594.79" y1="29.16" x2="598.48" y2="30.31" stroke="#111" stroke-width="1.17" />
<line x1="594.61" y1="30.65" x2="598.3" y2="31.8" stroke="#111" stroke-width="1.17" />
<ellipse cx="598.11" cy="17.68" rx="2.3" ry="6.24" fill="#fff" stroke="#111" stroke-width="1.56" transform="rotate(96.97 598.11 17.68)" />
<ellipse cx="598.31" cy="16.09" rx="2.6" ry="5.46" fill="#fff" stroke="#111" stroke-width="1.43" transform="rotate(96.97 598.31 16.09)" />
<ellipse cx="598.65" cy="13.31" rx="3.3" ry="4.78" fill="#fff" stroke="#111" stroke-width="1.69" transform="rotate(96.97 598.65 13.31)" />
<ellipse cx="598.77" cy="12.32" rx="1.8" ry="2.86" fill="none" stroke="#111" stroke-width="1.17" transform="rotate(96.97 598.77 12.32)" />
<line x1="596.66" y1="13.07" x2="596.13" y2="15.72" stroke="#111" stroke-width="1.04" />
<line x1="600.63" y1="13.55" x2="600.5" y2="16.26" stroke="#111" stroke-width="1.04" />
<path d="M565.53 72.18 L563.12 88.47 L566.88 89.03 L569.29 72.74" fill="#fff" stroke="#111" stroke-width="1.43" />
<line x1="565.02" y1="75.64" x2="568.68" y2="76.89" stroke="#111" stroke-width="1.17" />
<line x1="564.8" y1="77.12" x2="568.46" y2="78.37" stroke="#111" stroke-width="1.17" />
<line x1="564.58" y1="78.61" x2="568.24" y2="79.86" stroke="#111" stroke-width="1.17" />
<line x1="564.36" y1="80.09" x2="568.02" y2="81.34" stroke="#111" stroke-width="1.17" />
<line x1="564.14" y1="81.58" x2="567.8" y2="82.83" stroke="#111" stroke-width="1.17" />
<line x1="563.92" y1="83.06" x2="567.58" y2="84.31" stroke="#111" stroke-width="1.17" />
<line x1="563.7" y1="84.54" x2="567.36" y2="85.79" stroke="#111" stroke-width="1.17" />
<line x1="563.48" y1="86.03" x2="567.14" y2="87.28" stroke="#111" stroke-width="1.17" />
<line x1="563.26" y1="87.51" x2="566.92" y2="88.76" stroke="#111" stroke-width="1.17" />
<ellipse cx="567.53" cy="71.67" rx="2.3" ry="6.24" fill="#fff" stroke="#111" stroke-width="1.56" transform="rotate(98.43 567.53 71.67)" />
<ellipse cx="567.77" cy="70.08" rx="2.6" ry="5.46" fill="#fff" stroke="#111" stroke-width="1.43" transform="rotate(98.43 567.77 70.08)" />
<ellipse cx="568.18" cy="67.31" rx="3.3" ry="4.78" fill="#fff" stroke="#111" stroke-width="1.69" transform="rotate(98.43 568.18 67.31)" />
<ellipse cx="568.32" cy="66.32" rx="1.8" ry="2.86" fill="none" stroke="#111" stroke-width="1.17" transform="rotate(98.43 568.32 66.32)" />
<line x1="566.2" y1="67.02" x2="565.6" y2="69.66" stroke="#111" stroke-width="1.04" />
<line x1="570.15" y1="67.61" x2="569.96" y2="70.31" stroke="#111" stroke-width="1.04" />
<path d="M407.41 67.29 L413.85 76.06 L416.75 73.94 L410.32 65.16" fill="#fff" stroke="#111" stroke-width="1.43" />
<line x1="409.48" y1="70.11" x2="412.8" y2="68.55" stroke="#111" stroke-width="1.17" />
<line x1="410.37" y1="71.32" x2="413.69" y2="69.76" stroke="#111" stroke-width="1.17" />
<line x1="411.26" y1="72.53" x2="414.57" y2="70.97" stroke="#111" stroke-width="1.17" />
<line x1="412.14" y1="73.74" x2="415.46" y2="72.18" stroke="#111" stroke-width="1.17" />
<line x1="413.03" y1="74.95" x2="416.35" y2="73.39" stroke="#111" stroke-width="1.17" />
<ellipse cx="408.39" cy="65.58" rx="2.3" ry="5.52" fill="#fff" stroke="#111" stroke-width="1.56" transform="rotate(53.75 408.39 65.58)" />
<ellipse cx="407.45" cy="64.29" rx="2.6" ry="4.83" fill="#fff" stroke="#111" stroke-width="1.43" transform="rotate(53.75 407.45 64.29)" />
<ellipse cx="405.79" cy="62.03" rx="3.3" ry="4.23" fill="#fff" stroke="#111" stroke-width="1.69" transform="rotate(53.75 405.79 62.03)" />
<ellipse cx="405.2" cy="61.23" rx="1.8" ry="2.53" fill="none" stroke="#111" stroke-width="1.17" transform="rotate(53.75 405.2 61.23)" />
<line x1="404.18" y1="63.22" x2="405.61" y2="65.51" stroke="#111" stroke-width="1.04" />
<line x1="407.4" y1="60.85" x2="409.16" y2="62.91" stroke="#111" stroke-width="1.04" />
<g id="clip16">
<path d="M456.25 26.9 C457.5 26.9 461.77 26.17 463.75 26.9 C465.73 27.62 467.16 29.8 468.1 31.25 C469.04 32.7 469.6 34.04 469.4 35.6 C469.2 37.16 468.67 38.83 466.9 40.6 C465.12 42.38 460.73 45.1 458.75 46.25 C456.77 47.4 455.62 47.29 455 47.5" fill="none" stroke="#111" stroke-width="1.56" />
<path d="M456.25 31.9 C457.29 31.96 460.94 31.83 462.5 32.25 C464.06 32.67 465.28 33.32 465.6 34.4 C465.92 35.48 465.75 37.08 464.4 38.75 C463.05 40.42 459.4 43.26 457.5 44.4 C455.6 45.54 453.75 45.4 453 45.6" fill="none" stroke="#111" stroke-width="1.43" />
<path d="M450 32.5 C448.43 33.23 442.48 35.65 440.6 36.9 C438.73 38.15 438.95 38.75 438.75 40 C438.55 41.25 438.77 42.83 439.4 44.4 C440.02 45.97 441.25 48.37 442.5 49.4 C443.75 50.43 445.33 50.82 446.9 50.6 C448.47 50.38 450.88 48.93 451.9 48.1 C452.92 47.27 452.82 46.02 453 45.6" fill="none" stroke="#111" stroke-width="1.56" />
<path d="M439.4 43.1 L447.5 43.75 L451.25 44.4 L453 45.6" fill="none" stroke="#111" stroke-width="1.3" />
<path d="M450 32.5 L456 31" fill="none" stroke="#111" stroke-width="1.43" />
<ellipse cx="446.9" cy="46.9" rx="2.6" ry="1.6" fill="none" stroke="#111" stroke-width="1.3" transform="rotate(-10 446.9 46.9)" />
<path d="M448.9 25.4 L451 24 L456 24.6 L462 25.4 L463.75 26.9 L462 29.5 L456.5 31.5 L451 31.6 L449.6 29Z" fill="#222" stroke="#111" stroke-width="1.3" />
<path d="M453.5 27.5 L459.5 28.2" fill="none" stroke="#fff" stroke-width="1.04" />
</g>
<g id="cover12">
<path d="M419.4 86.25 C419.62 84.58 420.97 82.92 421.9 80 C422.83 77.08 424.17 71.57 425 68.75 C425.83 65.93 426.48 64.46 426.9 63.1 C427.32 61.74 426.77 61.43 427.5 60.6 C428.23 59.77 429.68 58.52 431.25 58.1 C432.82 57.68 435.65 57.78 436.9 58.1 C438.15 58.42 437.4 59.78 438.75 60 C440.1 60.22 441.88 59.44 445 59.4 C448.12 59.36 454.79 59.55 457.5 59.75 C460.21 59.95 460 59.83 461.25 60.6 C462.5 61.38 464.27 63.15 465 64.4 C465.73 65.65 466.02 66.96 465.6 68.1 C465.18 69.24 463.43 69.68 462.5 71.25 C461.57 72.82 461.25 75.21 460 77.5 C458.75 79.79 457.08 82.71 455 85 C452.92 87.29 450.21 89.68 447.5 91.25 C444.79 92.82 441.25 93.88 438.75 94.4 C436.25 94.93 434.79 94.62 432.5 94.4 C430.21 94.18 426.98 93.83 425 93.1 C423.02 92.37 421.53 91.14 420.6 90 C419.67 88.86 419.18 87.92 419.4 86.25Z" fill="#fff" stroke="#111" stroke-width="1.69" />
<path d="M419.8 88.5 C420.08 89.17 420.47 91.37 421.5 92.5 C422.53 93.63 424.08 94.67 426 95.3 C427.92 95.93 430.67 96.18 433 96.3 C435.33 96.42 437.42 96.55 440 96 C442.58 95.45 445.75 94.58 448.5 93 C451.25 91.42 455.17 87.58 456.5 86.5" fill="none" stroke="#111" stroke-width="1.3" />
<path d="M426.25 81.25 C426.05 77.39 427.52 69.58 429.4 66.25 C431.27 62.92 433.44 61.98 437.5 61.25 C441.56 60.52 450.33 60.86 453.75 61.9 C457.17 62.94 457.48 64.9 458 67.5 C458.52 70.1 458.23 74.38 456.9 77.5 C455.57 80.62 453.02 84.07 450 86.25 C446.98 88.43 441.98 90.07 438.75 90.6 C435.52 91.12 432.68 90.96 430.6 89.4 C428.52 87.84 426.45 85.11 426.25 81.25Z" fill="none" stroke="#111" stroke-width="1.56" />
<path d="M429.4 80 C429.61 76.88 430.94 70.21 432.5 67.5 C434.06 64.79 435.62 64.27 438.75 63.75 C441.88 63.23 448.64 63.57 451.25 64.4 C453.86 65.23 454.19 66.57 454.4 68.75 C454.61 70.93 454.07 74.79 452.5 77.5 C450.93 80.21 447.71 83.33 445 85 C442.29 86.67 438.54 87.29 436.25 87.5 C433.96 87.71 432.39 87.5 431.25 86.25 C430.11 85 429.19 83.12 429.4 80Z" fill="none" stroke="#111" stroke-width="1.3" />
<path d="M432 81 C432.83 81.5 435 83.75 437 84 C439 84.25 441.83 83.67 444 82.5 C446.17 81.33 448.67 79.08 450 77 C451.33 74.92 451.67 71.17 452 70" fill="none" stroke="#111" stroke-width="1.17" />
<path d="M433.2 71 C433.25 71.58 432.87 73.57 433.5 74.5 C434.13 75.43 435.67 76.43 437 76.6 C438.33 76.77 440.5 76.18 441.5 75.5 C442.5 74.82 442.75 73.5 443 72.5 C443.25 71.5 443 70 443 69.5" fill="none" stroke="#111" stroke-width="1.43" />
<ellipse cx="438" cy="70.3" rx="5" ry="3.5" fill="#fff" stroke="#111" stroke-width="1.43" transform="rotate(-18 438 70.3)" />
<ellipse cx="462" cy="66.8" rx="1.9" ry="1.3" fill="none" stroke="#111" stroke-width="1.3" transform="rotate(-20 462 66.8)" />
<ellipse cx="423.4" cy="89.3" rx="1.8" ry="1.3" fill="none" stroke="#111" stroke-width="1.3" transform="rotate(-20 423.4 89.3)" />
<path d="M427.5 61.5 C427.67 61 427.75 59.25 428.5 58.5 C429.25 57.75 430.67 57.18 432 57 C433.33 56.82 435.42 56.98 436.5 57.4 C437.58 57.82 438.17 59.15 438.5 59.5" fill="none" stroke="#111" stroke-width="1.43" />
</g>
<g id="thermo9">
<ellipse cx="460.5" cy="107" rx="10.2" ry="12.8" fill="#fff" stroke="#111" stroke-width="1.95" transform="rotate(-38 460.5 107)" />
<ellipse cx="461.3" cy="107.8" rx="8.2" ry="10.6" fill="none" stroke="#111" stroke-width="1.56" transform="rotate(-38 461.3 107.8)" />
<ellipse cx="462.5" cy="109" rx="6.2" ry="8.2" fill="#444" stroke="#111" stroke-width="1.56" transform="rotate(-38 462.5 109)" />
<path d="M451.5 99 C451.75 98.42 452.17 96.23 453 95.5 C453.83 94.77 455.5 94.52 456.5 94.6 C457.5 94.68 458.58 95.77 459 96" fill="none" stroke="#111" stroke-width="1.56" />
<path d="M461 112 C461.58 114 462.83 121.53 464.5 124 C466.17 126.47 469.03 127.13 471 126.8 C472.97 126.47 475.47 124.38 476.3 122 C477.13 119.62 477.05 115.08 476 112.5 C474.95 109.92 471 107.5 470 106.5" fill="#fff" stroke="#111" stroke-width="1.69" />
<ellipse cx="469.3" cy="119" rx="5.6" ry="4.2" fill="#fff" stroke="#111" stroke-width="1.82" transform="rotate(-25 469.3 119)" />
<ellipse cx="469.3" cy="119" rx="3.4" ry="2.3" fill="#bbb" stroke="#111" stroke-width="1.56" transform="rotate(-25 469.3 119)" />
<path d="M462.5 113.5 C463.08 113 464.5 111.17 466 110.5 C467.5 109.83 469.92 109.25 471.5 109.5 C473.08 109.75 474.83 111.58 475.5 112" fill="none" stroke="#111" stroke-width="1.43" />
<path d="M456 103 L459 100 L463 100.5" fill="none" stroke="#fff" stroke-width="1.17" />
<path d="M458 108 L461 105 L465 105.5" fill="none" stroke="#fff" stroke-width="1.17" />
</g>
<g id="bracket11">
<path d="M543.75 30 L551.25 28.1 L568.75 31.9 L592.5 37.5 L598.75 38.75 L602.5 41.9 L602.5 44.4 L592.5 49.4 L586.25 52.5 L583 51.25 L579.4 45.6 L575 43.75 L552.5 38.1 L548 38.75 L545 43.75 L541.25 45.6" fill="#fff" stroke="#111" stroke-width="1.56" />
<path d="M541.5 46.8 L545.8 45 L548.8 40 L552.5 39.4 L574.5 45 L578.6 46.9 L582 52.4 L586.3 53.8" fill="none" stroke="#111" stroke-width="1.17" />
<ellipse cx="593" cy="41.9" rx="5.4" ry="1.9" fill="none" stroke="#111" stroke-width="1.43" transform="rotate(12 593 41.9)" />
<path d="M586.25 52.5 L602.5 44.4" fill="none" stroke="#111" stroke-width="1.3" />
<ellipse cx="540.8" cy="35.38" rx="4.6" ry="7.4" fill="#fff" stroke="#111" stroke-width="1.69" transform="rotate(-18 540.8 35.38)" />
<ellipse cx="539.3" cy="35.75" rx="4.6" ry="7.4" fill="#fff" stroke="#111" stroke-width="1.69" transform="rotate(-18 539.3 35.75)" />
<ellipse cx="537.8" cy="36.12" rx="4.6" ry="7.4" fill="#fff" stroke="#111" stroke-width="1.69" transform="rotate(-18 537.8 36.12)" />
<ellipse cx="536.3" cy="36.5" rx="4.6" ry="7.4" fill="#fff" stroke="#111" stroke-width="1.69" transform="rotate(-18 536.3 36.5)" />
<ellipse cx="536.1" cy="36.6" rx="2.8" ry="5.4" fill="#fff" stroke="#111" stroke-width="1.56" transform="rotate(-18 536.1 36.6)" />
<ellipse cx="535.9" cy="36.7" rx="1.2" ry="3.2" fill="#999" stroke="#111" stroke-width="1.3" transform="rotate(-18 535.9 36.7)" />
<path d="M586.25 52.5 C587.71 53.33 590.62 56.15 595 57.5 C599.38 58.85 607.08 59.56 612.5 60.6 C617.92 61.64 623.92 63.08 627.5 63.75 C631.08 64.42 632.5 64.14 634 64.6 C635.5 65.06 636.13 65.6 636.5 66.5 C636.87 67.4 636.78 69 636.2 70 C635.62 71 635.53 71.67 633 72.5 C630.47 73.33 623.83 74.75 621 75 C618.17 75.25 617.21 74.67 616 74 C614.79 73.33 614.12 71.5 613.75 71" fill="none" stroke="#111" stroke-width="1.43" />
<path d="M587.5 51 C588.92 51.83 591.78 54.63 596 56 C600.22 57.37 607.47 58.13 612.8 59.2 C618.13 60.27 624.22 61.68 628 62.4 C631.78 63.12 633.8 62.85 635.5 63.5 C637.2 64.15 637.85 65.08 638.2 66.3 C638.55 67.52 638.3 69.55 637.6 70.8 C636.9 72.05 636.77 72.87 634 73.8 C631.23 74.73 624.17 76.15 621 76.4 C617.83 76.65 616.43 76.07 615 75.3 C613.57 74.53 612.83 72.38 612.4 71.8" fill="none" stroke="#111" stroke-width="1.3" />
<path d="M613.75 71 C614.12 70.67 614.96 69.27 616 69 C617.04 68.73 619.08 68.98 620 69.4 C620.92 69.82 621.25 71.15 621.5 71.5" fill="none" stroke="#111" stroke-width="1.43" />
</g>
<g id="manifold6">
<path d="M551.5 122.5 L555 111.5 L557.5 109.3 L562.5 108.25 L566 109.5 L588.5 131.5 L588.75 133.75 L580 142.5 L576.5 143.5 L572.5 142Z" fill="#fff" stroke="#111" stroke-width="1.56" />
<path d="M551.5 122.5 L552.3 126.5 L573 146.5 L577.5 148 L581.5 146.5 L589.5 137.5 L588.75 133.75" fill="none" stroke="#111" stroke-width="1.43" />
<ellipse cx="560" cy="112.6" rx="2" ry="1.2" fill="none" stroke="#111" stroke-width="1.17" transform="rotate(20 560 112.6)" />
<ellipse cx="577.5" cy="135.2" rx="2" ry="1.2" fill="none" stroke="#111" stroke-width="1.17" transform="rotate(20 577.5 135.2)" />
<path d="M560 124.25 C560.17 123.38 560.33 120.79 561 119 C561.67 117.21 562.29 115.75 564 113.5 C565.71 111.25 568.58 107.77 571.25 105.5 C573.92 103.23 576.88 101.36 580 99.9 C583.12 98.44 587.33 96.07 590 96.75 C592.67 97.43 594.42 100.96 596 104 C597.58 107.04 599.04 111.83 599.5 115 C599.96 118.17 599.92 121.42 598.75 123 C597.58 124.58 595.21 124.05 592.5 124.5 C589.79 124.95 585.58 124.78 582.5 125.7 C579.42 126.62 576.25 128.62 574 130 C571.75 131.38 569.83 133.33 569 134" fill="#fff" stroke="#111" stroke-width="1.56" />
<path d="M581.25 99.9 C581.17 98.93 581.62 96.73 582 95.5 C582.38 94.27 582.79 93.25 583.5 92.5 C584.21 91.75 585.4 90.97 586.25 91 C587.1 91.03 587.98 91.78 588.6 92.7 C589.23 93.62 589.67 95.3 590 96.5 C590.33 97.7 591.18 99.02 590.6 99.9 C590.02 100.78 587.85 101.57 586.5 101.8 C585.15 102.03 583.38 101.62 582.5 101.3 C581.62 100.98 581.33 100.87 581.25 99.9Z" fill="#fff" stroke="#111" stroke-width="1.43" />
<path d="M590 96.75 C590.83 99.04 593.75 105.92 595 110.5 C596.25 115.08 597.08 121.96 597.5 124.25" fill="none" stroke="#111" stroke-width="1.56" />
<path d="M596.25 94.9 C597.29 97.29 601.36 104.47 602.5 109.25 C603.64 114.03 603 121.21 603.1 123.6" fill="none" stroke="#111" stroke-width="1.56" />
<path d="M602.5 96.1 C603.54 98.71 607.92 107.47 608.75 111.75 C609.58 116.03 607.71 120.08 607.5 121.75" fill="none" stroke="#111" stroke-width="1.56" />
<path d="M590 96.75 C591.04 96.44 594.17 95.01 596.25 94.9 C598.33 94.79 601.46 95.9 602.5 96.1" fill="none" stroke="#111" stroke-width="1.43" />
<path d="M597.5 124.25 C598.43 124.14 601.43 124.02 603.1 123.6 C604.77 123.18 606.77 122.06 607.5 121.75" fill="none" stroke="#111" stroke-width="1.43" />
<path d="M593 97 C593.92 99.17 597.25 105.5 598.5 110 C599.75 114.5 600.17 121.67 600.5 124" fill="none" stroke="#111" stroke-width="1.17" />
<path d="M599.5 95.5 C600.53 98 604.7 105.95 605.7 110.5 C606.7 115.05 605.53 120.75 605.5 122.8" fill="none" stroke="#111" stroke-width="1.17" />
<path d="M583.75 125.5 L596 127.4 L596 129.6 L583.5 128" fill="none" stroke="#111" stroke-width="1.3" />
<ellipse cx="597.3" cy="128.6" rx="1.5" ry="1.9" fill="#fff" stroke="#111" stroke-width="1.43" />
<path d="M565 127 C565.33 125.83 565.83 122.33 567 120 C568.17 117.67 570 115.08 572 113 C574 110.92 577.83 108.42 579 107.5" fill="none" stroke="#111" stroke-width="1.17" />
</g>
<g id="ins7">
<defs><pattern id="stip2" width="5" height="5" patternUnits="userSpaceOnUse"><rect width="5" height="5" fill="#fff"/><circle cx="1" cy="1.2" r="0.4" fill="#444"/><circle cx="3.6" cy="2.2" r="0.4" fill="#444"/><circle cx="2" cy="4" r="0.4" fill="#444"/><circle cx="4.4" cy="4.4" r="0.3" fill="#666"/></pattern></defs>
<path d="M628.5 85.5 L638.75 78.5 C647 78 653 86 654.4 95 C655 104 653 111 649.4 115 L635 118.5 Z" fill="url(#stip2)" stroke="#111" stroke-width="1.2"/>
<path d="M640.5 78.3 C641.92 79.08 647 80.22 649 83 C651 85.78 652.08 90.92 652.5 95 C652.92 99.08 652.33 104.2 651.5 107.5 C650.67 110.8 648.17 113.58 647.5 114.8" fill="none" stroke="#111" stroke-width="1.3" />
<path d="M645 76.5 C645.5 76.35 646.92 75.43 648 75.6 C649.08 75.77 650.83 76.52 651.5 77.5 C652.17 78.48 651.92 80.83 652 81.5" fill="#333" stroke="#111" stroke-width="1.69" />
<ellipse cx="624.6" cy="101.9" rx="9.2" ry="18.8" fill="#fff" stroke="#111" stroke-width="1.95" transform="rotate(-9 624.6 101.9)" />
<ellipse cx="625.4" cy="102.3" rx="7.4" ry="16.4" fill="none" stroke="#111" stroke-width="1.43" transform="rotate(-9 625.4 102.3)" />
<ellipse cx="626.2" cy="102.8" rx="5.6" ry="13.8" fill="none" stroke="#111" stroke-width="1.56" transform="rotate(-9 626.2 102.8)" />
<ellipse cx="627" cy="103.2" rx="4" ry="11" fill="none" stroke="#111" stroke-width="1.3" transform="rotate(-9 627 103.2)" />
<path d="M628 97 L631 100 L630 104 L632 108 L629.5 112" fill="none" stroke="#111" stroke-width="1.43" />
<path d="M623 95 L626 99 L625 105 L627 110" fill="none" stroke="#111" stroke-width="1.17" />
</g>
<g id="clamp8">
<path d="M662.5 72.5 C660.5 77 660.5 84 661.5 88 C663 98 667 106 671.25 108.75 C672.5 110 674 110.6 675 110.6 L692.5 105 C695 101 696 97 695.6 93 C695.5 85 693 79 690 75 C688.5 72.5 687.5 71.5 686 70.5" fill="#fff" stroke="#111" stroke-width="1.3"/>
<path d="M666.25 73.75 C666.38 74.79 666.58 78.12 667 80 C667.42 81.88 667.75 82.08 668.75 85 C669.75 87.92 671.54 93.75 673 97.5 C674.46 101.25 677.17 105.32 677.5 107.5 C677.83 109.68 675.42 110.08 675 110.6" fill="none" stroke="#111" stroke-width="1.43" />
<path d="M664.3 73 C664.38 74.17 664.43 77.83 664.8 80 C665.17 82.17 665.55 83 666.5 86 C667.45 89 669.08 94.28 670.5 98 C671.92 101.72 674.25 106.58 675 108.3" fill="none" stroke="#111" stroke-width="1.04" />
<line x1="677.5" y1="90" x2="677.5" y2="107.5" stroke="#111" stroke-width="1.3" />
<path d="M672.5 85.2 L683 84.4 L683.75 87.6 L673 88.9Z" fill="#222" stroke="#111" stroke-width="1.3" />
<path d="M663.75 67 L664.5 60 L667 57.8 L675.5 57.5 L677 59 L678 63 L690 65 L689 67.5 L684.5 73.5 L670 75Z" fill="#fff" stroke="#111" stroke-width="1.56" />
<path d="M664.5 62.5 L676 61.5 L678 63" fill="none" stroke="#111" stroke-width="1.3" />
<path d="M670 75 L671.5 66.5 L678 63" fill="none" stroke="#111" stroke-width="1.3" />
<path d="M673 72.5 L675 67 L686.5 66.5" fill="none" stroke="#111" stroke-width="1.17" />
<path d="M676.5 71 L679 68 L683 70" fill="#444" stroke="#111" stroke-width="1.17" />
</g>
<path d="M652.5 48.5 L655 46 L661 46 L662 48 L662 55 L659.5 57 L653.5 57Z" fill="#fff" stroke="#111" stroke-width="1.56" />
<path d="M652.5 48.5 L659 48.5 L662 46.5" fill="none" stroke="#111" stroke-width="1.3" />
<line x1="659" y1="48.5" x2="659.5" y2="57" stroke="#111" stroke-width="1.3" />
<ellipse cx="655.8" cy="52.8" rx="1.7" ry="2" fill="#888" stroke="#111" stroke-width="1.3" />
<path d="M700.25 85.07 L713.45 98.07" fill="none" stroke="#111" stroke-width="1.3" />
<path d="M702.35 82.93 L715.55 95.93" fill="none" stroke="#111" stroke-width="1.3" />
<path d="M700.25 85.07 L702.35 82.93" fill="none" stroke="#111" stroke-width="1.3" />
<line x1="700.96" y1="85.77" x2="703.49" y2="84.05" stroke="#111" stroke-width="1.04" />
<line x1="701.96" y1="86.75" x2="704.49" y2="85.04" stroke="#111" stroke-width="1.04" />
<line x1="702.95" y1="87.74" x2="705.49" y2="86.02" stroke="#111" stroke-width="1.04" />
<line x1="703.95" y1="88.72" x2="706.48" y2="87" stroke="#111" stroke-width="1.04" />
<line x1="704.95" y1="89.7" x2="707.48" y2="87.98" stroke="#111" stroke-width="1.04" />
<line x1="705.95" y1="90.68" x2="708.48" y2="88.97" stroke="#111" stroke-width="1.04" />
<line x1="706.94" y1="91.66" x2="709.48" y2="89.95" stroke="#111" stroke-width="1.04" />
<line x1="707.94" y1="92.65" x2="710.47" y2="90.93" stroke="#111" stroke-width="1.04" />
<ellipse cx="715.21" cy="97.7" rx="2" ry="3.3" fill="#fff" stroke="#111" stroke-width="1.56" transform="rotate(44.56 715.21 97.7)" />
<g id="head">
<path d="M572 190.7 C574.33 191.17 582.17 192.2 586 193.5 C589.83 194.8 592.4 196.85 595 198.5 C597.6 200.15 599.43 201.4 601.6 203.4 C603.77 205.4 606.1 208.15 608 210.5 C609.9 212.85 611.7 216.15 613 217.5 C614.3 218.85 614.53 217.58 615.8 218.6 C617.07 219.62 619.7 221.43 620.6 223.6 C621.5 225.77 620.92 227.67 621.2 231.6 C621.48 235.53 622.27 242.02 622.3 247.2 C622.33 252.38 622.72 257.52 621.4 262.7 C620.08 267.88 617.22 273.82 614.4 278.3 C611.58 282.78 606.73 286.87 604.5 289.6 C602.27 292.33 601.54 292.59 601 294.7 C600.46 296.81 602.46 300.57 601.25 302.25 C600.04 303.93 595.71 305.17 593.75 304.75 C591.79 304.33 589.92 301.83 589.5 299.75 C589.08 297.67 590.96 293.5 591.25 292.25" fill="#fff" stroke="#111" stroke-width="1.95" />
<path d="M575 193.5 C576.83 193.95 582.83 194.98 586 196.2 C589.17 197.42 591.67 199.25 594 200.8 C596.33 202.35 598 203.63 600 205.5 C602 207.37 604.25 209.75 606 212 C607.75 214.25 609.17 217.5 610.5 219 C611.83 220.5 612.75 220 614 221 C615.25 222 617.22 223.17 618 225 C618.78 226.83 618.4 228.3 618.7 232 C619 235.7 619.77 242.2 619.8 247.2 C619.83 252.2 620.17 257.07 618.9 262 C617.63 266.93 614.93 272.47 612.2 276.8 C609.47 281.13 604.73 285.22 602.5 288 C600.27 290.78 599.42 292.58 598.8 293.5" fill="none" stroke="#111" stroke-width="1.49" />
<path d="M578 196 C578.88 196.52 580.97 197.77 583.3 199.1 C585.63 200.43 589.38 201.93 592 204 C594.62 206.07 596.68 207.6 599 211.5 C601.32 215.4 604.05 221.45 605.9 227.4 C607.75 233.35 609.63 241.07 610.1 247.2 C610.57 253.33 610.35 258.55 608.7 264.2 C607.05 269.85 602.78 276.63 600.2 281.1 C597.62 285.57 594.37 289.35 593.2 291" fill="none" stroke="#111" stroke-width="1.56" />
<path d="M583.3 204.8 C583.77 205.98 584.93 210.02 586.1 211.9 C587.27 213.78 588.88 213.52 590.3 216.1 C591.72 218.68 593.42 223.17 594.6 227.4 C595.78 231.63 596.93 236.32 597.4 241.5 C597.87 246.68 598.35 252.83 597.4 258.5 C596.45 264.17 594.05 269.85 591.7 275.5 C589.35 281.15 584.7 289.58 583.3 292.4" fill="none" stroke="#111" stroke-width="1.56" />
<path d="M579.5 207 C579.92 208.17 580.92 212.08 582 214 C583.08 215.92 584.62 216 586 218.5 C587.38 221 589.13 225.08 590.3 229 C591.47 232.92 592.55 237.17 593 242 C593.45 246.83 593.92 252.67 593 258 C592.08 263.33 589.75 268.67 587.5 274 C585.25 279.33 580.83 287.33 579.5 290" fill="none" stroke="#111" stroke-width="1.49" />
<ellipse cx="613.9" cy="224.6" rx="3.1" ry="4.2" fill="#fff" stroke="#111" stroke-width="1.69" transform="rotate(15 613.9 224.6)" />
<ellipse cx="594.5" cy="296.5" rx="2.8" ry="3.5" fill="none" stroke="#111" stroke-width="1.56" transform="rotate(20 594.5 296.5)" />
<ellipse cx="597.4" cy="209" rx="1.7" ry="2.3" fill="#333" stroke="#111" stroke-width="1.3" transform="rotate(30 597.4 209)" />
<ellipse cx="611.5" cy="240.3" rx="1.3" ry="1.6" fill="#333" stroke="#111" stroke-width="1.3" />
<ellipse cx="610.1" cy="265.6" rx="1.2" ry="1.5" fill="#333" stroke="#111" stroke-width="1.3" />
<ellipse cx="601.8" cy="282.5" rx="1.7" ry="2.7" fill="none" stroke="#111" stroke-width="1.56" transform="rotate(30 601.8 282.5)" />
<path d="M571 189.5 C572.83 189.67 578.83 189.92 582 190.5 C585.17 191.08 588.67 192.58 590 193" fill="none" stroke="#111" stroke-width="1.37" />
<path d="M572 216 C573.88 213.67 581.42 202.5 583.3 202 C585.18 201.5 582.68 210 583.3 213 C583.92 216 585.88 217.17 587 220 C588.12 222.83 589.17 226.33 590 230 C590.83 233.67 591.67 237.33 592 242 C592.33 246.67 592.83 252.83 592 258 C591.17 263.17 589 268 587 273 C585 278 581.75 284 580 288 C578.25 292 577.58 293.67 576.5 297 C575.42 300.33 576.92 305.08 573.5 308 C570.08 310.92 561.25 311.67 556 314.5 C550.75 317.33 545.33 321.75 542 325 C538.67 328.25 537 332.5 536 334" fill="#fff" stroke="#111" stroke-width="1.43" />
<path d="M573.7 235 L590.5 233.4 L593 228" fill="none" stroke="#111" stroke-width="1.49" />
<path d="M587 240 C587.33 242 588.28 247.52 589 252 C589.72 256.48 590.92 264.42 591.3 266.9" fill="none" stroke="#111" stroke-width="1.49" />
<path d="M583.75 271 L594.5 270.2 L595.5 277.5 L585 278.6Z" fill="#fff" stroke="#111" stroke-width="1.43" />
<line x1="586.5" y1="271" x2="587.3" y2="278.4" stroke="#111" stroke-width="1.37" />
<path d="M576 224 C576.67 226 579.17 231.67 580 236 C580.83 240.33 581.33 245 581 250 C580.67 255 579.5 260.67 578 266 C576.5 271.33 574 277 572 282 C570 287 567 293.67 566 296" fill="none" stroke="#111" stroke-width="1.49" />
<ellipse cx="568.7" cy="261.9" rx="4.2" ry="5.6" fill="#fff" stroke="#111" stroke-width="1.56" transform="rotate(15 568.7 261.9)" />
<ellipse cx="568.9" cy="262.3" rx="2.3" ry="3.3" fill="#444" stroke="#111" stroke-width="1.3" transform="rotate(15 568.9 262.3)" />
<path d="M560.3 280.3 L573.7 285.3 L580 284" fill="none" stroke="#111" stroke-width="1.49" />
<path d="M557 292 L571 297.5 L577 296" fill="none" stroke="#111" stroke-width="1.49" />
<path d="M573.7 285.3 L571 297.5" fill="none" stroke="#111" stroke-width="1.37" />
<path d="M557 301.7 L572.4 300" fill="none" stroke="#111" stroke-width="1.49" />
<path d="M556 310.4 L572.4 307.7" fill="none" stroke="#111" stroke-width="1.49" />
<ellipse cx="572.4" cy="303.9" rx="1.7" ry="3.9" fill="#fff" stroke="#111" stroke-width="1.3" />
<path d="M578 290 L584 283 L590 278" fill="none" stroke="#111" stroke-width="1.37" />
<path d="M533.75 191.25 L542.5 182.5 L553.75 183.75 L585 198.75 L583.75 203.75 L571.25 205.5 L568.75 211.25 L561.25 210Z" fill="#fff" stroke="#111" stroke-width="1.56" />
<ellipse cx="553.2" cy="196" rx="8.6" ry="3.4" fill="none" stroke="#111" stroke-width="1.56" transform="rotate(22 553.2 196)" />
<ellipse cx="547.5" cy="185.3" rx="1.9" ry="0.9" fill="none" stroke="#111" stroke-width="1.37" transform="rotate(15 547.5 185.3)" />
<ellipse cx="560.5" cy="207" rx="1.9" ry="0.9" fill="none" stroke="#111" stroke-width="1.37" transform="rotate(15 560.5 207)" />
<path d="M583.75 203.75 L584 212 L581 216" fill="none" stroke="#111" stroke-width="1.49" />
<path d="M571.25 205.5 L572 214" fill="none" stroke="#111" stroke-width="1.49" />
<path d="M483.75 158.75 C483.92 154.33 484.96 154.86 486 153.5 C487.04 152.14 487.67 151.7 490 150.6 C492.33 149.5 496.88 147.52 500 146.9 C503.12 146.28 505.62 146.59 508.75 146.9 C511.88 147.21 516.04 146.78 518.75 148.75 C521.46 150.72 523.54 156.25 525 158.75 C526.46 161.25 527.29 162.29 527.5 163.75 C527.71 165.21 527.08 166.46 526.25 167.5 C525.42 168.54 522.92 168.75 522.5 170 C522.08 171.25 523.12 173.75 523.75 175 C524.38 176.25 526.04 176.25 526.25 177.5 C526.46 178.75 526.38 181.08 525 182.5 C523.62 183.92 521.33 185.58 518 186 C514.67 186.42 509 185.5 505 185 C501 184.5 497.33 183.83 494 183 C490.67 182.17 486.71 184.04 485 180 C483.29 175.96 483.58 163.17 483.75 158.75Z" fill="#fff" stroke="#111" stroke-width="1.69" />
<path d="M488.75 160.6 C489.79 159.46 492.29 155.31 495 153.75 C497.71 152.19 502.08 151.46 505 151.25 C507.92 151.04 511.25 152.29 512.5 152.5" fill="none" stroke="#111" stroke-width="1.56" />
<path d="M491.5 163 C492.42 162 494.67 158.4 497 157 C499.33 155.6 503.08 154.8 505.5 154.6 C507.92 154.4 510.5 155.6 511.5 155.8" fill="none" stroke="#111" stroke-width="1.37" />
<path d="M496.25 176.25 C497.08 175 499.17 170.53 501.25 168.75 C503.33 166.97 506.25 165.91 508.75 165.6 C511.25 165.29 514.17 165.96 516.25 166.9 C518.33 167.84 520.42 170.53 521.25 171.25" fill="none" stroke="#111" stroke-width="1.56" />
<path d="M502.5 177.5 C503.33 176.57 505.42 173.05 507.5 171.9 C509.58 170.75 512.92 170.08 515 170.6 C517.08 171.12 519.17 174.27 520 175" fill="none" stroke="#111" stroke-width="1.56" />
<path d="M503.75 178.75 L513.75 177.5 L515 182.5" fill="none" stroke="#111" stroke-width="1.56" />
<path d="M518.75 148.75 L513 152.5" fill="none" stroke="#111" stroke-width="1.49" />
<path d="M493.75 160.5 L500 161.5 L496.5 165.5Z" fill="#444" stroke="#111" stroke-width="1.17" />
<path d="M518.75 161.25 L525 162.5 L522 167Z" fill="#444" stroke="#111" stroke-width="1.17" />
<path d="M500 157 L504 155 L508 155.8" fill="none" stroke="#555" stroke-width="1.82" />
<path d="M512.5 152.5 C513.42 153.08 516.58 154.58 518 156 C519.42 157.42 520.5 160.17 521 161" fill="none" stroke="#111" stroke-width="1.49" />
<path d="M523.75 175 L527.5 176 L528.5 180" fill="none" stroke="#111" stroke-width="1.49" />
<path d="M480 161.6 C481.5 161.43 487.08 159.45 489 160.6 C490.92 161.75 491.42 165.85 491.5 168.5 C491.58 171.15 491.25 174.82 489.5 176.5 C487.75 178.18 482.42 178.25 481 178.6" fill="#fff" stroke="#111" stroke-width="1.43" />
<ellipse cx="480.6" cy="169.9" rx="6.1" ry="8.3" fill="#fff" stroke="#111" stroke-width="1.43" transform="rotate(-8 480.6 169.9)" />
<ellipse cx="478.2" cy="170.1" rx="6.2" ry="8.2" fill="#fff" stroke="#111" stroke-width="1.95" transform="rotate(-8 478.2 170.1)" />
<ellipse cx="477.6" cy="170.2" rx="3.9" ry="5.6" fill="none" stroke="#111" stroke-width="1.56" transform="rotate(-8 477.6 170.2)" />
<ellipse cx="477.3" cy="170.3" rx="2.1" ry="3.1" fill="#333" stroke="#111" stroke-width="1.3" transform="rotate(-8 477.3 170.3)" />
<path d="M472.5 176 C472.42 176.75 471.58 179.08 472 180.5 C472.42 181.92 474.5 183.83 475 184.5" fill="none" stroke="#111" stroke-width="1.49" />
<path d="M484.5 178 L485 182.5" fill="none" stroke="#111" stroke-width="1.3" />
<path d="M488 181 L497.5 180.2 L497.8 182.8 L488.3 183.8Z" fill="#fff" stroke="#111" stroke-width="1.3" />
<ellipse cx="487.7" cy="182.4" rx="1.5" ry="1.9" fill="#222" stroke="#111" stroke-width="1.43" />
<path d="M498.5 178.5 C499.08 178.17 500.83 176.58 502 176.5 C503.17 176.42 505 177 505.5 178 C506 179 505.08 181.75 505 182.5" fill="none" stroke="#111" stroke-width="1.49" />
<path d="M429 177 C429.52 173.72 429.88 173.34 431.3 172.3 C432.72 171.26 434.38 170.51 437.5 170.75 C440.62 170.99 445 172.08 450 173.75 C455 175.42 463.33 179.08 467.5 180.75 C471.67 182.42 471.88 182.54 475 183.75 C478.12 184.96 482.71 186.75 486.25 188 C489.79 189.25 493.75 191.42 496.25 191.25 C498.75 191.08 498.96 187.83 501.25 187 C503.54 186.17 507.29 186.5 510 186.25 C512.71 186 515 185.08 517.5 185.5 C520 185.92 522.08 186.83 525 188.75 C527.92 190.67 530.83 193.46 535 197 C539.17 200.54 545.83 206.79 550 210 C554.17 213.21 557.5 215.62 560 216.25 C562.5 216.88 563.12 213.96 565 213.75 C566.88 213.54 569.79 213.75 571.25 215 C572.71 216.25 573.54 218.75 573.75 221.25 C573.96 223.75 572.71 227.54 572.5 230 C572.29 232.46 573.54 230.83 572.5 236 C571.46 241.17 568.33 253.92 566.25 261 C564.17 268.08 562.08 272.25 560 278.5 C557.92 284.75 555.42 293.08 553.75 298.5 C552.08 303.92 551.25 307.25 550 311 C548.75 314.75 547.71 317.88 546.25 321 C544.79 324.12 542.96 327.33 541.25 329.75 C539.54 332.17 537.67 334.41 536 335.5 C534.33 336.59 532.75 336.47 531.25 336.3 C529.75 336.13 528.04 335.38 527 334.5 C525.96 333.62 528.25 332.92 525 331 C521.75 329.08 514.58 325.42 507.5 323 C500.42 320.58 490 319.12 482.5 316.5 C475 313.88 466.33 308.93 462.5 307.25 C458.67 305.57 460.55 306.97 459.5 306.4 C458.45 305.82 457.16 304.91 456.2 303.8 C455.24 302.69 459.1 306.02 453.75 299.75 C448.4 293.48 429.98 272.11 424.1 266.2 C418.23 260.29 419.9 265.6 418.5 264.3 C417.1 263 416.05 260.33 415.7 258.4 C415.35 256.47 415.77 254.05 416.4 252.7 C417.03 251.35 418.53 251 419.5 250.3 C420.47 249.6 421.45 249.55 422.2 248.5 C422.95 247.45 423.6 245.75 424 244 C424.4 242.25 424.22 242.83 424.6 238 C424.98 233.17 425.7 222.67 426.3 215 C426.9 207.33 427.75 198.33 428.2 192 C428.65 185.67 428.48 180.28 429 177Z" fill="#fff" stroke="#111" stroke-width="2.08" />
<path d="M438.5 189 C439.17 187.17 439.92 185.95 441 185 C442.08 184.05 443.08 183.7 445 183.3 C446.92 182.9 449.58 182.3 452.5 182.6 C455.42 182.9 458.75 184.05 462.5 185.1 C466.25 186.15 471.25 187.75 475 188.9 C478.75 190.05 481.5 191.07 485 192 C488.5 192.93 492.67 194.08 496 194.5 C499.33 194.92 502.17 195.08 505 194.5 C507.83 193.92 510.17 191.33 513 191 C515.83 190.67 518.83 190.83 522 192.5 C525.17 194.17 527.83 197.42 532 201 C536.17 204.58 542.83 210.67 547 214 C551.17 217.33 554 219.67 557 221 C560 222.33 563.25 220.83 565 222 C566.75 223.17 567.08 225.67 567.5 228 C567.92 230.33 568.5 230.67 567.5 236 C566.5 241.33 563.58 252.92 561.5 260 C559.42 267.08 557.17 272.08 555 278.5 C552.83 284.92 550.17 293.08 548.5 298.5 C546.83 303.92 546.17 307.5 545 311 C543.83 314.5 542.75 316.83 541.5 319.5 C540.25 322.17 539.25 325.33 537.5 327 C535.75 328.67 532.67 329.75 531 329.5 C529.33 329.25 531.42 327.5 527.5 325.5 C523.58 323.5 514.58 319.92 507.5 317.5 C500.42 315.08 492.08 313.92 485 311 C477.92 308.08 470 303.5 465 300 C460 296.5 460.75 296.17 455 290 C449.25 283.83 435.03 268.17 430.5 263 C425.97 257.83 427.88 261 427.8 259 C427.72 257 429.3 253.5 430 251 C430.7 248.5 431.6 247.17 432 244 C432.4 240.83 431.98 237.33 432.4 232 C432.82 226.67 433.73 218 434.5 212 C435.27 206 436.33 199.83 437 196 C437.67 192.17 437.83 190.83 438.5 189Z" fill="none" stroke="#111" stroke-width="1.62" />
<path d="M436 173.2 C438.33 173.72 444.96 174.73 450 176.3 C455.04 177.87 461.25 180.72 466.25 182.6 C471.25 184.48 476.25 186.23 480 187.6 C483.75 188.97 485.92 189.97 488.75 190.8 C491.58 191.63 495.62 192.3 497 192.6" fill="none" stroke="#111" stroke-width="1.37" />
<ellipse cx="434.3" cy="176.6" rx="1.9" ry="2.4" fill="none" stroke="#111" stroke-width="1.56" />
<ellipse cx="419.8" cy="258.5" rx="2.1" ry="2.8" fill="none" stroke="#111" stroke-width="1.56" />
<ellipse cx="459.6" cy="302.4" rx="1.5" ry="1.9" fill="none" stroke="#111" stroke-width="1.56" />
<ellipse cx="531.4" cy="332.4" rx="2.1" ry="2.4" fill="none" stroke="#111" stroke-width="1.56" />
<ellipse cx="562.3" cy="218.6" rx="1.9" ry="2.3" fill="none" stroke="#111" stroke-width="1.56" />
<ellipse cx="505.5" cy="190" rx="2" ry="1.6" fill="none" stroke="#111" stroke-width="1.56" />
<path d="M437.5 193.5 L438.5 201.6 L448.9 209.2 L448.9 215.75" fill="none" stroke="#111" stroke-width="1.56" />
<path d="M452.6 207.3 L490.4 202.5" fill="none" stroke="#111" stroke-width="1.56" />
<ellipse cx="442.3" cy="210.1" rx="2" ry="2.5" fill="#333" stroke="#111" stroke-width="1.69" />
<path d="M447.9 215.75 L456.4 213.9 L458.3 215.75 L454.5 231.8 L445.1 232.7 L437 230" fill="none" stroke="#111" stroke-width="1.56" />
<path d="M456.4 213.9 L452.7 230.2 L454.5 231.8" fill="none" stroke="#111" stroke-width="1.49" />
<path d="M435.5 219 L443.5 221.5 L444 224 L436 221.8Z" fill="none" stroke="#111" stroke-width="1.56" />
<path d="M441 224.5 L445.5 226 L446 223" fill="none" stroke="#111" stroke-width="1.49" />
<path d="M454.5 234.6 L479 229.9" fill="none" stroke="#111" stroke-width="1.56" />
<path d="M453.6 233.7 L451.7 245" fill="none" stroke="#111" stroke-width="1.49" />
<path d="M465.5 196.5 C465.67 196.95 465.58 198.62 466.5 199.2 C467.42 199.78 469.67 200.37 471 200 C472.33 199.63 473.92 197.5 474.5 197" fill="none" stroke="#111" stroke-width="1.49" />
<ellipse cx="468.3" cy="192.7" rx="4.4" ry="5.5" fill="#fff" stroke="#111" stroke-width="1.69" />
<ellipse cx="468.2" cy="192.9" rx="2.1" ry="3" fill="none" stroke="#111" stroke-width="1.56" />
<path d="M498 196.5 C499.25 196.42 503.92 194.92 505.5 196 C507.08 197.08 507.58 200.67 507.5 203 C507.42 205.33 506.58 208.58 505 210 C503.42 211.42 499.17 211.25 498 211.5" fill="#fff" stroke="#111" stroke-width="1.43" />
<ellipse cx="497.2" cy="204.2" rx="6.4" ry="7.5" fill="#fff" stroke="#111" stroke-width="1.95" transform="rotate(-8 497.2 204.2)" />
<ellipse cx="497" cy="204.4" rx="2.8" ry="3.9" fill="none" stroke="#111" stroke-width="1.69" transform="rotate(-8 497 204.4)" />
<path d="M490.4 212 L492.3 219.5" fill="none" stroke="#111" stroke-width="1.49" />
<path d="M497.5 212.5 L496 219" fill="none" stroke="#111" stroke-width="1.49" />
<path d="M503 210.5 L504 216.5" fill="none" stroke="#111" stroke-width="1.49" />
<ellipse cx="505.2" cy="191.2" rx="4.3" ry="4.6" fill="#fff" stroke="#111" stroke-width="1.69" />
<ellipse cx="505.2" cy="191.3" rx="2" ry="2.7" fill="none" stroke="#111" stroke-width="1.56" />
<ellipse cx="512.5" cy="189.3" rx="2.2" ry="3.6" fill="none" stroke="#111" stroke-width="1.49" transform="rotate(-20 512.5 189.3)" />
<ellipse cx="516" cy="188.8" rx="2.2" ry="3.6" fill="none" stroke="#111" stroke-width="1.49" transform="rotate(-20 516 188.8)" />
<path d="M478.1 225.2 L484.7 221.4 L485.7 229 L480 231.8Z" fill="#fff" stroke="#111" stroke-width="1.56" />
<path d="M484.7 221.4 L502.6 217.6 L505.5 220.5 L501.7 225.2 L485.7 229" fill="none" stroke="#111" stroke-width="1.56" />
<path d="M485.7 232.7 C485.85 234.28 487.08 238.73 486.6 242.2 C486.12 245.67 484.85 250.52 482.8 253.5 C480.75 256.48 476.33 258.68 474.3 260.1 C472.27 261.52 471.22 261.68 470.6 262" fill="none" stroke="#111" stroke-width="1.69" />
<path d="M480 231.8 L485.7 232.7" fill="none" stroke="#111" stroke-width="1.49" />
<path d="M501.7 225.2 C500.6 227.72 496.67 235.58 495.1 240.3 C493.53 245.02 492.93 250.2 492.3 253.5 C491.67 256.8 491.62 258.06 491.3 260.1 C490.98 262.14 490.55 264.81 490.4 265.75" fill="none" stroke="#111" stroke-width="1.56" />
<path d="M505.5 220.5 C504.28 223.42 499.9 232.58 498.2 238 C496.5 243.42 495.78 248.25 495.3 253 C494.82 257.75 495.3 264.25 495.3 266.5" fill="none" stroke="#111" stroke-width="1.49" />
<path d="M470.6 262 L475.3 267.6 L492.3 264.8" fill="none" stroke="#111" stroke-width="1.56" />
<path d="M474.3 260.1 L478.5 264.6" fill="none" stroke="#111" stroke-width="1.49" />
<path d="M475.3 232.7 L468.7 252.5" fill="none" stroke="#111" stroke-width="1.56" />
<path d="M431.5 257.3 C433.13 256.2 438.05 252.28 441.3 250.7 C444.55 249.12 449.38 248.28 451 247.8" fill="none" stroke="#111" stroke-width="1.56" />
<path d="M431.5 257.3 C433.13 258.02 438.05 260.72 441.3 261.6 C444.55 262.48 449.38 262.43 451 262.6" fill="none" stroke="#111" stroke-width="1.56" />
<path d="M458.5 246.8 C458.93 246.82 459.72 246.42 461.1 246.9 C462.48 247.38 465.38 248.6 466.8 249.7 C468.22 250.8 469.45 251.77 469.6 253.5 C469.75 255.23 469.12 258.95 467.7 260.1 C466.28 261.25 462.2 260.35 461.1 260.4" fill="#fff" stroke="#111" stroke-width="1.43" />
<ellipse cx="456.4" cy="253.7" rx="5.7" ry="7.3" fill="#fff" stroke="#111" stroke-width="1.95" transform="rotate(-8 456.4 253.7)" />
<ellipse cx="456.2" cy="253.9" rx="2.5" ry="3.8" fill="none" stroke="#111" stroke-width="1.69" transform="rotate(-8 456.2 253.9)" />
<path d="M451 262 L455 266.5 L470 266" fill="none" stroke="#111" stroke-width="1.49" />
<path d="M479 266.5 C480.17 266.55 484.42 265.72 486 266.8 C487.58 267.88 488.5 270.72 488.5 273 C488.5 275.28 487.58 278.92 486 280.5 C484.42 282.08 480.17 282.17 479 282.5" fill="#fff" stroke="#111" stroke-width="1.43" />
<ellipse cx="476.8" cy="274.2" rx="7.4" ry="8.4" fill="#fff" stroke="#111" stroke-width="1.95" transform="rotate(-8 476.8 274.2)" />
<ellipse cx="476.6" cy="274.4" rx="3" ry="4.1" fill="none" stroke="#111" stroke-width="1.69" transform="rotate(-8 476.6 274.4)" />
<path d="M506 221 C505 222.67 501.58 227.17 500 231 C498.42 234.83 497.33 239.67 496.5 244 C495.67 248.33 495.08 253.5 495 257 C494.92 260.5 495.83 263.67 496 265" fill="none" stroke="#111" stroke-width="1.56" />
<path d="M503.5 224 C502.67 225.5 499.92 229.33 498.5 233 C497.08 236.67 495.83 241.83 495 246 C494.17 250.17 493.75 256 493.5 258" fill="none" stroke="#111" stroke-width="1.04" />
<path d="M432 254 C433.33 253.17 436.67 250.08 440 249 C443.33 247.92 448.67 247.5 452 247.5 C455.33 247.5 458.67 248.75 460 249" fill="none" stroke="#111" stroke-width="1.49" />
<path d="M432 254 C433.5 254.75 437.67 257.5 441 258.5 C444.33 259.5 449.17 259.83 452 260 C454.83 260.17 457 259.58 458 259.5" fill="none" stroke="#111" stroke-width="1.49" />
<ellipse cx="456" cy="254.2" rx="6.1" ry="6.9" fill="#fff" stroke="#111" stroke-width="1.82" transform="rotate(-8 456 254.2)" />
<ellipse cx="455.8" cy="254.4" rx="2.6" ry="3.5" fill="none" stroke="#111" stroke-width="1.56" transform="rotate(-8 455.8 254.4)" />
<path d="M458.5 249.5 C459.58 249.25 463.25 247.58 465 248 C466.75 248.42 468.67 250.17 469 252 C469.33 253.83 468.58 257.67 467 259 C465.42 260.33 460.75 259.83 459.5 260" fill="none" stroke="#111" stroke-width="1.49" />
<path d="M451 262 L455 266.5 L470 266" fill="none" stroke="#111" stroke-width="1.37" />
<ellipse cx="479.3" cy="273.6" rx="7.2" ry="8.2" fill="#fff" stroke="#111" stroke-width="1.3" transform="rotate(-8 479.3 273.6)" />
<ellipse cx="476.8" cy="274.2" rx="7" ry="8.2" fill="#fff" stroke="#111" stroke-width="1.69" transform="rotate(-8 476.8 274.2)" />
<ellipse cx="476.6" cy="274.4" rx="2.8" ry="3.9" fill="none" stroke="#111" stroke-width="1.56" transform="rotate(-8 476.6 274.4)" />
<path d="M472 267 L474 264 L490 262.5 L487.5 271" fill="none" stroke="#111" stroke-width="1.37" />
<ellipse cx="512.2" cy="250.8" rx="8.8" ry="13.7" fill="#777" stroke="#111" stroke-width="1.56" transform="rotate(-14 512.2 250.8)" />
<ellipse cx="509.5" cy="251.5" rx="8.8" ry="13.7" fill="#fff" stroke="#111" stroke-width="1.95" transform="rotate(-14 509.5 251.5)" />
<ellipse cx="508.3" cy="251.8" rx="4.2" ry="6" fill="none" stroke="#111" stroke-width="1.56" transform="rotate(-14 508.3 251.8)" />
<ellipse cx="508.2" cy="251.8" rx="2.1" ry="3.1" fill="none" stroke="#111" stroke-width="1.49" transform="rotate(-14 508.2 251.8)" />
<ellipse cx="532.4" cy="224" rx="10.4" ry="11" fill="#fff" stroke="#111" stroke-width="1.43" transform="rotate(-20 532.4 224)" />
<ellipse cx="531" cy="223.1" rx="10.4" ry="11" fill="#fff" stroke="#111" stroke-width="1.95" transform="rotate(-20 531 223.1)" />
<ellipse cx="530.5" cy="222.6" rx="4.5" ry="5.7" fill="none" stroke="#111" stroke-width="1.69" transform="rotate(-20 530.5 222.6)" />
<path d="M534 246.3 L548 242 L551 249 L537 256" fill="none" stroke="#111" stroke-width="1.49" />
<ellipse cx="532.8" cy="251" rx="4" ry="5" fill="#fff" stroke="#111" stroke-width="1.69" transform="rotate(-10 532.8 251)" />
<ellipse cx="532.5" cy="251.2" rx="1.7" ry="2.3" fill="#444" stroke="#111" stroke-width="1.43" transform="rotate(-10 532.5 251.2)" />
<ellipse cx="552.5" cy="236.25" rx="5.4" ry="9.2" fill="#fff" stroke="#111" stroke-width="1.82" transform="rotate(-15 552.5 236.25)" />
<ellipse cx="552.4" cy="236.4" rx="2.5" ry="4.4" fill="none" stroke="#111" stroke-width="1.56" transform="rotate(-15 552.4 236.4)" />
<path d="M546 244 C546.5 244.83 547.33 248.17 549 249 C550.67 249.83 554.42 250 556 249 C557.58 248 558.08 244 558.5 243" fill="none" stroke="#111" stroke-width="1.37" />
<path d="M536 256 C536.33 258 538.17 264 538 268 C537.83 272 536.67 276.67 535 280 C533.33 283.33 530.5 286 528 288 C525.5 290 521.33 291.33 520 292" fill="none" stroke="#111" stroke-width="1.56" />
<path d="M541 257 C541.33 259.17 543.17 265.67 543 270 C542.83 274.33 541.67 279.33 540 283 C538.33 286.67 535.33 289.67 533 292 C530.67 294.33 527.17 296.17 526 297" fill="none" stroke="#111" stroke-width="1.49" />
<path d="M543 270 C543.83 271 546.67 273.67 548 276 C549.33 278.33 550.5 282.67 551 284" fill="none" stroke="#111" stroke-width="1.37" />
<ellipse cx="513.2" cy="292.3" rx="8.4" ry="10.2" fill="#fff" stroke="#111" stroke-width="1.43" transform="rotate(-20 513.2 292.3)" />
<ellipse cx="510.6" cy="293.3" rx="8.4" ry="10.2" fill="#fff" stroke="#111" stroke-width="1.95" transform="rotate(-20 510.6 293.3)" />
<ellipse cx="510.2" cy="293.8" rx="3.6" ry="5.2" fill="none" stroke="#111" stroke-width="1.69" transform="rotate(-20 510.2 293.8)" />
<path d="M519.5 287.5 C520.33 287.92 523.33 288.58 524.5 290 C525.67 291.42 526.67 294.08 526.5 296 C526.33 297.92 524.92 300.75 523.5 301.5 C522.08 302.25 518.92 300.67 518 300.5" fill="#fff" stroke="#111" stroke-width="1.56" />
<ellipse cx="523" cy="295" rx="2" ry="2.4" fill="#333" stroke="#111" stroke-width="1.56" />
<path d="M503 300 C503.33 300.83 503.5 303.67 505 305 C506.5 306.33 509.67 308 512 308 C514.33 308 517.83 305.5 519 305" fill="none" stroke="#111" stroke-width="1.37" />
<ellipse cx="537" cy="306" rx="5.4" ry="7.3" fill="#fff" stroke="#111" stroke-width="1.69" transform="rotate(-12 537 306)" />
<ellipse cx="537" cy="306" rx="2.6" ry="4" fill="none" stroke="#111" stroke-width="1.56" transform="rotate(-12 537 306)" />
<path d="M531 300 C530.83 301.5 529.5 306.33 530 309 C530.5 311.67 533.33 314.83 534 316" fill="none" stroke="#111" stroke-width="1.37" />
<path d="M471.4 281.6 L484.6 295.6 L464.8 298.9" fill="none" stroke="#111" stroke-width="1.49" />
<path d="M484.6 295.6 C486.8 296.83 491.48 300.1 497.8 303 C504.12 305.9 518.38 311.33 522.5 313" fill="none" stroke="#111" stroke-width="1.49" />
<line x1="475.5" y1="305.5" x2="496.1" y2="303" stroke="#111" stroke-width="1.49" />
<line x1="480.4" y1="308.3" x2="501.1" y2="305.2" stroke="#111" stroke-width="1.49" />
<line x1="484.6" y1="310.9" x2="509.3" y2="308" stroke="#111" stroke-width="1.49" />
<line x1="489.5" y1="313.4" x2="517.6" y2="311.3" stroke="#111" stroke-width="1.49" />
<line x1="494.5" y1="315.7" x2="520.9" y2="313.3" stroke="#111" stroke-width="1.49" />
<path d="M508.8 324.4 C509 325.08 508.63 327.32 510 328.5 C511.37 329.68 514.4 331.2 517 331.5 C519.6 331.8 524.17 330.5 525.6 330.3" fill="none" stroke="#111" stroke-width="1.49" />
<path d="M427.5 272 C427.42 273.33 426.42 277.5 427 280 C427.58 282.5 429.17 285.25 431 287 C432.83 288.75 435.83 290.08 438 290.5 C440.17 290.92 443 289.67 444 289.5" fill="none" stroke="#111" stroke-width="1.56" />
<path d="M431 275 C431.08 276 430.83 279.17 431.5 281 C432.17 282.83 434.42 285.17 435 286" fill="none" stroke="#111" stroke-width="1.37" />
<line x1="434" y1="279" x2="434.5" y2="284" stroke="#111" stroke-width="1.56" />
<line x1="436.5" y1="281" x2="437" y2="286" stroke="#111" stroke-width="1.49" />
</g>
<g id="carb">
<path d="M188.5 76.8 C189.72 77.47 194.48 79.48 195.8 80.8 C197.12 82.12 197.18 83.23 196.4 84.7 C195.62 86.17 193.96 88.17 191.1 89.6 C188.24 91.03 182.98 92.57 179.25 93.3 C175.52 94.03 172.22 94.43 168.7 94 C165.17 93.57 161.07 92.25 158.1 90.7 C155.13 89.15 152.1 85.7 150.9 84.7" fill="none" stroke="#111" stroke-width="1.56" />
<path d="M197.1 86 C196.33 86.88 195.47 89.75 192.5 91.3 C189.53 92.85 183.67 94.63 179.25 95.3 C174.83 95.97 169.53 95.75 166 95.3 C162.47 94.85 159.42 93.05 158.1 92.6" fill="none" stroke="#111" stroke-width="1.43" />
<path d="M151.8 70.5 L150.6 81.4 C154 87 161 90.4 170 90.4 C179 90.4 186 87.5 188.5 83 L187.8 71.5" fill="#fff" stroke="#111" stroke-width="1.6"/>
<ellipse cx="169.8" cy="70.6" rx="18" ry="9.3" fill="#fff" stroke="#111" stroke-width="1.69" transform="rotate(2.5 169.8 70.6)" />
<path d="M198.9 88.4 C197.23 89.57 192.13 92.85 188.9 95.4 C185.67 97.95 181.77 100.95 179.5 103.7 C177.23 106.45 176.18 108.95 175.3 111.9 C174.42 114.85 174.2 117.85 174.2 121.4 C174.2 124.95 175.12 131.23 175.3 133.2" fill="none" stroke="#111" stroke-width="1.56" />
<path d="M200.3 89.8 C198.63 90.97 193.52 94.27 190.3 96.8 C187.08 99.33 183.23 102.32 181 105 C178.77 107.68 177.75 110.07 176.9 112.9 C176.05 115.73 175.88 118.65 175.9 122 C175.92 125.35 176.82 131.17 177 133" fill="none" stroke="#111" stroke-width="1.43" />
<path d="M190 97.8 C191.38 98.98 196.32 102.15 198.3 104.9 C200.28 107.65 201.5 111.37 201.9 114.3 C202.3 117.23 200.9 121.13 200.7 122.5" fill="none" stroke="#111" stroke-width="1.56" />
<path d="M188.9 101.3 C189.88 102.48 193.52 105.85 194.8 108.4 C196.08 110.95 196.48 114.17 196.6 116.6 C196.72 119.03 195.68 121.93 195.5 123" fill="none" stroke="#111" stroke-width="1.43" />
<path d="M192.5 96 C193.92 97.25 198.98 100.5 201 103.5 C203.02 106.5 204.23 110.67 204.6 114 C204.97 117.33 203.43 121.92 203.2 123.5" fill="none" stroke="#111" stroke-width="1.3" />
<path d="M183.6 109 L190.7 106.6 L193.6 109.6 L193 114.3 L185.4 121.4 L178.3 116.6 L179.5 111.5Z" fill="#fff" stroke="#111" stroke-width="1.56" />
<path d="M183.6 109 L186.5 112.5 L193 110.5" fill="none" stroke="#111" stroke-width="1.3" />
<path d="M186.5 112.5 L185.4 121.4" fill="none" stroke="#111" stroke-width="1.3" />
<ellipse cx="183.4" cy="113.9" rx="1.7" ry="2" fill="#333" stroke="#111" stroke-width="1.56" />
<path d="M186 104 L188.5 101.5 L191 103 L190.7 106.6" fill="none" stroke="#111" stroke-width="1.3" />
<path d="M191.5 126 C192.53 124.57 196.77 123 198.5 122.8 C200.23 122.6 201.37 123.77 201.9 124.8 C202.43 125.83 202.85 127.67 201.7 129 C200.55 130.33 196.57 132.4 195 132.8 C193.43 133.2 192.88 132.53 192.3 131.4 C191.72 130.27 190.47 127.43 191.5 126Z" fill="#fff" stroke="#111" stroke-width="1.56" />
<path d="M187.5 129.5 C188.53 128.2 192.42 126.37 194 126.2 C195.58 126.03 196.58 127.45 197 128.5 C197.42 129.55 197.58 131.28 196.5 132.5 C195.42 133.72 191.95 135.55 190.5 135.8 C189.05 136.05 188.3 135.05 187.8 134 C187.3 132.95 186.47 130.8 187.5 129.5Z" fill="#fff" stroke="#111" stroke-width="1.56" />
<path d="M184 122.5 L188 124.5 L188.5 129" fill="none" stroke="#111" stroke-width="1.3" />
<path d="M196.5 117 L199.5 119 L199.3 122.5" fill="none" stroke="#111" stroke-width="1.3" />
<path d="M123.8 75.5 C124.45 75.93 125.72 77 127.7 78.1 C129.68 79.2 133.82 81.12 135.7 82.1 C137.58 83.08 138.45 83.68 139 84" fill="none" stroke="#111" stroke-width="1.56" />
<path d="M125.5 74.2 C126.13 74.6 127.38 75.55 129.3 76.6 C131.22 77.65 135.72 79.85 137 80.5" fill="none" stroke="#111" stroke-width="1.3" />
<path d="M133 80.75 L150.2 74.8" fill="none" stroke="#111" stroke-width="1.43" />
<path d="M134.5 82.6 L150.5 77" fill="none" stroke="#111" stroke-width="1.3" />
<path d="M123.8 75.5 L126 77.8 L125 79.5" fill="none" stroke="#111" stroke-width="1.3" />
<path d="M138.8 85.4 C139.52 84.23 141.98 82.48 143.6 82.3 C145.22 82.12 146.27 82.35 148.5 84.3 C150.73 86.25 154 89.5 157 94 C160 98.5 165.08 107.88 166.5 111.3 C167.92 114.72 166.42 113.47 165.5 114.5 C164.58 115.53 162.45 117.2 161 117.5 C159.55 117.8 158.72 118.97 156.8 116.3 C154.88 113.63 152.42 106 149.5 101.5 C146.58 97 141.08 91.98 139.3 89.3 C137.52 86.62 138.08 86.57 138.8 85.4Z" fill="#fff" stroke="#111" stroke-width="1.69" />
<path d="M147.8 91.5 C147.88 92.25 147.8 94.65 148.3 96 C148.8 97.35 149.75 99.1 150.8 99.6 C151.85 100.1 153.47 99.72 154.6 99 C155.73 98.28 157.1 95.92 157.6 95.3" fill="none" stroke="#111" stroke-width="1.3" />
<path d="M154.7 113.5 C155.25 113.92 156.53 115.83 158 116 C159.47 116.17 162.08 115.42 163.5 114.5 C164.92 113.58 166 111.17 166.5 110.5" fill="none" stroke="#111" stroke-width="1.43" />
<path d="M153.5 116.5 C153.75 117.17 153.75 119.58 155 120.5 C156.25 121.42 159.08 122.25 161 122 C162.92 121.75 165.47 120.17 166.5 119 C167.53 117.83 167.08 115.67 167.2 115" fill="none" stroke="#111" stroke-width="1.56" />
<path d="M131.7 84.25 L121.1 116" fill="none" stroke="#111" stroke-width="1.56" />
<path d="M134.6 86.6 L124 114.9" fill="none" stroke="#111" stroke-width="1.43" />
<path d="M129.3 90.7 L122.9 87.6 L120.5 92.5 L126.4 95.5" fill="none" stroke="#111" stroke-width="1.56" />
<path d="M127.6 92.6 L123.6 90.6 L122.8 92.3 L126.6 94.1" fill="none" stroke="#111" stroke-width="1.17" />
<path d="M126.1 99.7 L119.7 96.6 L117.3 101.5 L123.2 104.5" fill="none" stroke="#111" stroke-width="1.56" />
<path d="M124.4 101.6 L120.4 99.6 L119.6 101.3 L123.4 103.1" fill="none" stroke="#111" stroke-width="1.17" />
<path d="M122.9 108.7 L116.5 105.6 L114.1 110.5 L120 113.5" fill="none" stroke="#111" stroke-width="1.56" />
<path d="M121.2 110.6 L117.2 108.6 L116.4 110.3 L120.2 112.1" fill="none" stroke="#111" stroke-width="1.17" />
<path d="M112.5 110 L109.5 111.5 L111 114.5 L116.5 117 L121.1 116" fill="none" stroke="#111" stroke-width="1.56" />
<path d="M134.6 104.3 C133.43 105.28 129.55 107.85 127.6 110.2 C125.65 112.55 123.88 116.05 122.9 118.4 C121.92 120.75 121.9 123.32 121.7 124.3" fill="none" stroke="#111" stroke-width="1.56" />
<path d="M136.5 105.8 C135.35 106.75 131.52 109.3 129.6 111.5 C127.68 113.7 125.97 116.75 125 119 C124.03 121.25 124 124 123.8 125" fill="none" stroke="#111" stroke-width="1.3" />
<path d="M133.5 104.9 L141.7 107.2 L138.8 114.3 L125.2 123.2" fill="none" stroke="#111" stroke-width="1.43" />
<path d="M135.7 82.1 L131.7 90 L134.6 104.3" fill="none" stroke="#111" stroke-width="1.3" />
<path d="M139 88 C138.5 89.5 136.25 94.17 136 97 C135.75 99.83 137.25 103.67 137.5 105" fill="none" stroke="#111" stroke-width="1.3" />
<path d="M141.7 107.2 C142.75 106.67 146.12 104.12 148 104 C149.88 103.88 152.17 106.08 153 106.5" fill="none" stroke="#111" stroke-width="1.3" />
<path d="M131.7 123.5 C133.68 122.18 140.38 117.27 143.6 115.6 C146.82 113.93 148.93 113.43 151 113.5 C153.07 113.57 155.17 115.58 156 116" fill="none" stroke="#111" stroke-width="1.56" />
<path d="M133 146 C134.17 146.25 137.67 147.5 140 147.5 C142.33 147.5 145 146.92 147 146 C149 145.08 151.17 142.67 152 142" fill="none" stroke="#111" stroke-width="1.56" />
<ellipse cx="139.5" cy="132" rx="8.6" ry="11.6" fill="#fff" stroke="#111" stroke-width="1.56" transform="rotate(-10 139.5 132)" />
<ellipse cx="136.9" cy="132.9" rx="8.6" ry="11.6" fill="#fff" stroke="#111" stroke-width="1.56" transform="rotate(-10 136.9 132.9)" />
<ellipse cx="134.3" cy="133.8" rx="8.6" ry="11.6" fill="#fff" stroke="#111" stroke-width="1.56" transform="rotate(-10 134.3 133.8)" />
<ellipse cx="131.7" cy="134.7" rx="8.6" ry="11.4" fill="#fff" stroke="#111" stroke-width="2.08" transform="rotate(-10 131.7 134.7)" />
<ellipse cx="132" cy="134.8" rx="5.7" ry="8.5" fill="none" stroke="#111" stroke-width="1.69" transform="rotate(-10 132 134.8)" />
<path d="M150 110 C151 110.33 154.17 110.83 156 112 C157.83 113.17 159.83 115 161 117 C162.17 119 163.17 121.67 163 124 C162.83 126.33 160 128.83 160 131 C160 133.17 162.83 135.17 163 137 C163.17 138.83 161.33 141.17 161 142" fill="none" stroke="#111" stroke-width="1.56" />
<path d="M156 116 C156.42 117.17 158.33 120.67 158.5 123 C158.67 125.33 156.92 127.83 157 130 C157.08 132.17 158.92 134.17 159 136 C159.08 137.83 157.75 140.17 157.5 141" fill="none" stroke="#111" stroke-width="1.43" />
<path d="M163 124 C163.83 123.5 166.33 121.17 168 121 C169.67 120.83 172 121.75 173 123 C174 124.25 174.5 126.83 174 128.5 C173.5 130.17 171.5 132.42 170 133 C168.5 133.58 165.83 132.17 165 132" fill="#fff" stroke="#111" stroke-width="1.56" />
<path d="M165.5 125.5 C166.08 125.25 168.08 123.83 169 124 C169.92 124.17 170.92 125.5 171 126.5 C171.08 127.5 169.75 129.42 169.5 130" fill="none" stroke="#111" stroke-width="1.3" />
<path d="M166 112.5 L167 118 L172 119.5" fill="none" stroke="#111" stroke-width="1.3" />
<path d="M168 136 C168.67 135 170 131.67 172 130 C174 128.33 177.67 126.5 180 126 C182.33 125.5 185 126.83 186 127" fill="none" stroke="#111" stroke-width="1.56" />
<path d="M165 140 C165.5 139.33 166.17 137.17 168 136 C169.83 134.83 173.83 133.17 176 133 C178.17 132.83 180.17 134.67 181 135" fill="none" stroke="#111" stroke-width="1.43" />
<path d="M176 121 C176.67 120.67 178.83 118.83 180 119 C181.17 119.17 182.75 120.83 183 122 C183.25 123.17 181.75 125.33 181.5 126" fill="none" stroke="#111" stroke-width="1.3" />
<path d="M172 134.5 L174 139.5 L178.5 138" fill="none" stroke="#111" stroke-width="1.3" />
<path d="M163.5 128 L161 133.5 L164.5 138 L168 136" fill="#666" stroke="#111" stroke-width="1.3" />
<path d="M148.9 142.9 L163 149.3 L191.3 135.2" fill="none" stroke="#111" stroke-width="1.56" />
<path d="M163 150.8 L191.3 137 L191.3 146.4 L181.9 154 L173.6 155.8 L171.5 151" fill="none" stroke="#111" stroke-width="1.69" />
<path d="M163 150.8 L163.5 158.5 L168 160.5" fill="none" stroke="#111" stroke-width="1.56" />
<path d="M181.9 154 L181.7 147.5" fill="none" stroke="#111" stroke-width="1.3" />
<path d="M176.5 155.2 L176 150.5 L181.7 147.5" fill="none" stroke="#111" stroke-width="1.3" />
<path d="M152 141 L160 144.5 L166 142.5 L186 133" fill="none" stroke="#111" stroke-width="1.3" />
<path d="M145.3 144 L145.3 152.9 L149 154 L149.3 146" fill="none" stroke="#111" stroke-width="1.56" />
<path d="M151.8 147.5 L151.8 162.9 L155.3 163.5 L155.3 149" fill="#fff" stroke="#111" stroke-width="1.56" />
<path d="M155.3 149 L155.3 166.4 L158.9 166.6 L158.9 150.5" fill="none" stroke="#111" stroke-width="1.56" />
<line x1="153.5" y1="150" x2="153.5" y2="162" stroke="#111" stroke-width="1.3" />
<line x1="157.2" y1="152" x2="157.2" y2="165" stroke="#111" stroke-width="1.69" />
<path d="M158.9 152 L160.5 160 L165.4 161.7" fill="none" stroke="#111" stroke-width="1.43" />
<path d="M151 157 L153.5 159.5 L151.5 162.5" fill="none" stroke="#111" stroke-width="1.3" />
<ellipse cx="151.7" cy="164.8" rx="1.6" ry="1.5" fill="none" stroke="#111" stroke-width="1.3" />
<path d="M165.8 162.6 C166.13 161.87 166.53 160.77 168 161.2 C169.47 161.63 173.43 164.1 174.6 165.2 C175.77 166.3 175.3 167.1 175 167.8 C174.7 168.5 174.3 169.77 172.8 169.4 C171.3 169.03 167.17 166.73 166 165.6 C164.83 164.47 165.47 163.33 165.8 162.6Z" fill="#444" stroke="#111" stroke-width="1.56" />
<path d="M168.4 163.4 L172 165.7" fill="none" stroke="#fff" stroke-width="0.91" />
<path d="M170.2 162.8 L173.6 165" fill="none" stroke="#fff" stroke-width="0.78" />
<path d="M163.5 158.5 L164.2 162.9 L166 164" fill="none" stroke="#111" stroke-width="1.43" />
<path d="M141.2 158.2 L145.3 154" fill="none" stroke="#111" stroke-width="2.86" />
</g>
<line x1="404" y1="197.46" x2="466" y2="186" stroke="#111" stroke-width="1.17" />
</svg>
</body></html>
